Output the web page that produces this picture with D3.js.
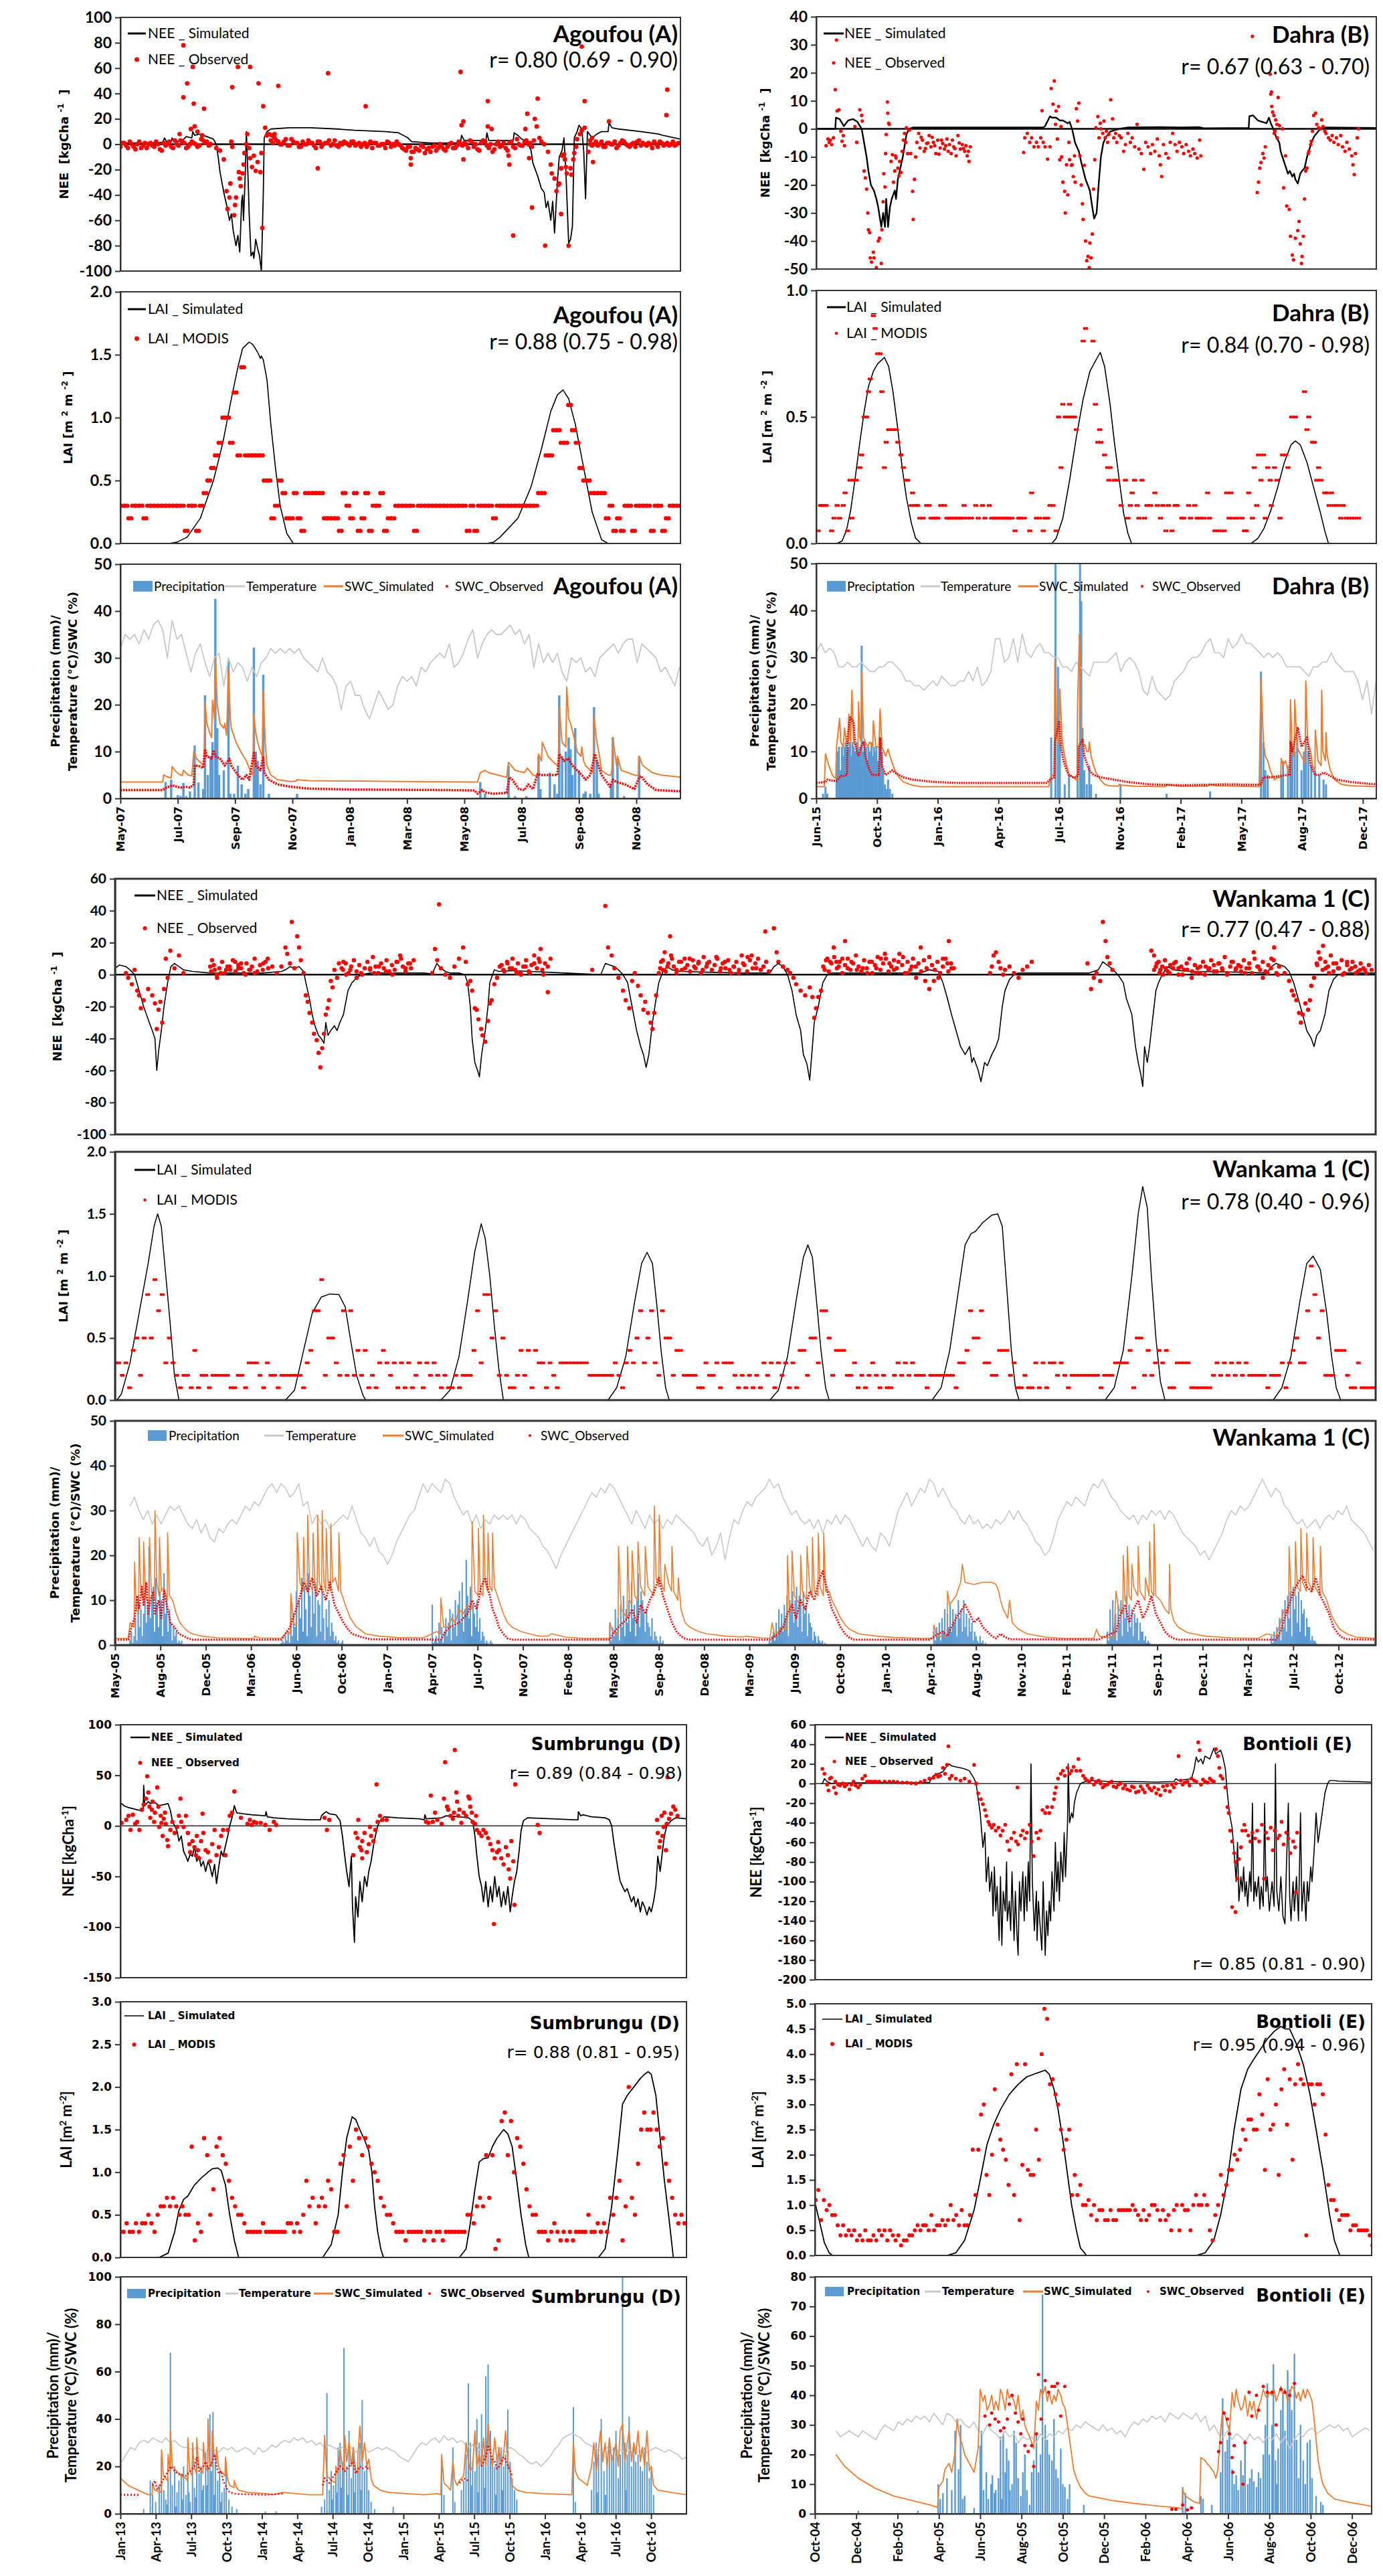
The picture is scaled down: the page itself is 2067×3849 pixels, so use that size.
<!DOCTYPE html>
<html>
<head>
<meta charset="utf-8">
<title>NEE, LAI and soil water at five West African sites</title>
<script src="https://cdn.jsdelivr.net/npm/d3@7"></script>
<style>
  body { margin: 0; background: #fff; }
  svg { display: block; }
</style>
</head>
<body>
<svg id="fig" width="2067" height="3849"></svg>
<script>
// x values are days since the first date of each site's axis

// ---------- Agoufou (A): 15 May 2007 .. 31 Dec 2008 ----------
const agoTickLabels = ["May-07","Jul-07","Sep-07","Nov-07","Jan-08","Mar-08","May-08","Jul-08","Sep-08","Nov-08"];
const agoNeeSim = [[0,1],[30,1],[45,1.5],[47,5],[49,2],[54,2],[55,5],[57,2],[66,3],[70,6],[76,5],[77,10],[79,7],[84,8],[92,6],[99,4],[102,0],[104,-10],[106,-22],[108,-30],[110,-38],[113,-48],[116,-60],[118,-55],[120,-68],[123,-80],[125,-72],[127,-85],[129,-45],[130,-40],[131,-60],[133,-20],[134,10],[136,-30],[137,-55],[139,-88],[141,-85],[142,-90],[144,-75],[146,-82],[148,-88],[150,-100],[152,-40],[153,5],[156,10],[160,12],[180,13],[202,13],[231,12],[249,11],[282,10],[296,9],[306,5],[310,2],[330,1],[362,1],[363,7],[366,3],[389,3],[390,9],[392,3],[418,3],[419,9],[423,7],[427,4],[432,3],[437,-5],[439,-15],[444,-25],[448,-35],[451,-38],[453,-50],[455,-45],[458,-60],[460,-45],[462,-70],[465,-30],[467,-10],[470,-5],[472,5],[474,-20],[477,-78],[479,-75],[481,-65],[483,5],[486,10],[488,15],[491,12],[493,-5],[495,-43],[497,10],[502,5],[507,8],[512,10],[519,10],[520,17],[523,13],[530,12],[554,10],[573,8],[577,7],[596,4]];
const agoNeeObsA = [-2,1,-3,0,-4,2,-1,-3,1,-2,0,-5,-1,2,-3,0,3,1,-2,2,0,-1,3,2,0,
  null,null,null,null,null,null,null,null,null,null,null,null,null,null,null,
  3,5,2,0,4,-1,2,1,-2,0,3,1,-3,2,0,1,-1,3,-2,0,
  1,-1,2,0,-2,1,0,-3,1,-1,0,2,-2,-1,0,
  -3,-5,-2,-6,-4,-1,-7,-3,-2,-5,0,-4,-2,1,-3,
  2,-1,0,3,-2,-4,1,2,-3,-6,0,-2,1,-5,2,-3,0,-1,3,1,
  null,null,null,null,null,null,null,null,null,null,null,null,null,null,null,
  3,0,-1,2,-2,1,0,-3,1,2,-1,0,-2,3,1,-1,0,2,-2,1,0,-1,2,0];
const agoNeeObsB = [1,-1,2,-2,0,-3,1,0,-1,2,-4,1,0,-2,3,-1,2,-3,0,1,-2,4,1,-1,
  null,null,null,null,null,null,null,null,null,null,null,null,null,null,null,null,
  1,3,0,2,-1,4,1,-2,2,0,1,-1,2,-2,1,3,0,-1,1,2,
  0,2,-1,1,0,-2,2,1,-1,0,-3,1,0,2,-1,
  -4,-2,-6,-3,-5,-2,-4,-6,-1,-3,-2,-5,0,-3,-1,
  0,1,-3,2,0,-5,3,-1,0,-4,2,-1,-3,1,-2,4,-1,2,0,-2,
  null,null,null,null,null,null,null,null,null,null,null,null,null,null,null,
  -1,2,0,-2,1,0,2,-1,3,0,-2,1,2,-1,0,1,-3,0,2,-1,1,0,-1,1];
const agoNeeObsSeason = [[67,78],[71,48],[67,37],[77,61],[78,32],[89,28],[63,8],[75,12],[79,14],[82,10],[87,7],[119,45],[125,61],[138,61],[147,48],[152,30],[168,46],[221,56],[261,30],[210,-19],[362,57],[365,18],[363,15],[391,34],[391,14],[395,12],[365,-12],[309,-11],[309,-16],[433,24],[444,36],[441,20],[443,14],[431,12],[435,-11],[413,-9],[414,-16],[418,-72],[438,-50],[452,-80],[477,-80],[469,-55],[491,77],[494,34],[520,18],[582,43],[581,23],[503,-14],
  [102,-3],[106,-5],[110,-12],[113,-37],[116,-42],[114,-51],[121,-56],[122,-48],[117,-31],[123,-42],[126,-22],[127,-27],[130,-23],[128,-33],[131,-16],[132,-7],[134,0],[135,8],[137,-3],[138,-11],[140,-18],[142,-9],[144,-21],[146,-14],[149,-22],[150,-7],[151,-66],[154,13],[156,7],[158,8],[161,7],[164,8],[118,2],[119,-2],
  [440,3],[446,5],[448,2],[451,0],[455,-6],[458,-16],[459,-23],[462,-27],[464,-37],[466,-32],[467,-31],[469,-19],[470,-9],[472,-8],[473,-12],[474,-18],[475,-23],[479,-19],[480,-24],[482,-12],[483,-7],[485,-2],[486,4],[489,8],[491,11],[494,13],[498,-6],[500,0],[502,5]];
const agoLaiSim = [[0,0],[52,0],[60,0.01],[71,0.05],[85,0.2],[99,0.5],[109,0.8],[118,1.15],[125,1.4],[130,1.55],[137,1.6],[141,1.58],[146,1.52],[149,1.47],[150,1.49],[152,1.46],[156,1.3],[160,0.95],[165,0.6],[170,0.3],[177,0.08],[184,0],[390,0],[397,0.01],[404,0.05],[423,0.2],[437,0.45],[448,0.75],[458,1.05],[465,1.18],[471,1.22],[477,1.15],[484,0.95],[493,0.6],[502,0.25],[512,0.03],[519,0],[596,0]];
const agoLaiModis = [0.3,0.3,0.2,0.3,0.3,0.3,0.2,0.3,0.3,0.3,
  0.3,0.3,0.3,0.3,0.3,0.3,0.3,0.1,0.3,0.3,
  0.1,0.3,0.4,0.5,0.6,0.7,0.8,1.0,1.0,0.8,
  1.2,0.7,1.4,0.7,0.7,0.7,0.7,0.7,0.5,0.5,
  0.2,0.3,0.5,0.4,0.2,0.2,0.4,0.2,0.1,0.4,
  0.4,0.4,0.4,0.4,0.2,0.2,0.2,0.2,0.1,0.4,
  0.3,0.2,0.4,0.1,0.2,0.4,0.1,0.3,0.3,0.4,
  0.1,0.2,0.2,0.3,0.3,0.3,0.3,0.3,0.1,0.3,
  0.3,0.3,0.3,0.3,0.3,0.3,0.3,0.3,0.3,0.3,
  0.3,0.3,0.1,0.3,0.1,0.3,0.3,0.3,0.3,0.2,
  0.3,0.3,0.3,0.3,0.3,0.3,0.3,0.3,0.3,0.3,
  0.3,0.4,0.4,0.7,0.7,0.9,0.9,0.8,0.8,1.1,
  0.9,0.8,0.6,0.5,0.5,0.4,0.4,0.4,0.4,0.2,
  0.3,0.1,0.2,0.1,0.3,0.3,0.1,0.3,0.3,0.3,
  0.3,0.1,0.3,0.3,0.1,0.2,0.3,0.3,0.3];
const agoTemp = [32,35,34,35,33,36,34,37,38,36,30,38,34,35,31,27,31,33,29,26,30,31,24,30,27,29,28,25,28,26,29,30,32,31,32,31,32,31,32,30,29,28,27,30,27,26,24,19,24,25,22,22,19,17,20,23,21,19,20,24,26,25,26,24,28,27,29,30,31,30,33,28,29,31,34,36,30,33,35,36,35,35,36,37,35,36,33,35,28,33,29,31,29,31,27,25,30,29,30,27,28,26,30,31,32,33,31,33,34,34,29,33,32,31,30,27,28,26,24,28];
const agoPrecip = [[48,3.5],[54,4],[61,0.7],[64,0.5],[67,3.3],[70,0.5],[74,1.5],[79,11.3],[83,3.4],[88,2],[90,22],[93,5],[96,9],[98,12],[101,42.6],[103,15],[105,5],[110,6],[115,29.3],[117,1],[121,1],[125,7],[129,3],[133,1],[136,2],[142,32.2],[144,10],[146,8],[149,3],[152,26.4],[158,1],[188,1],[383,3.5],[388,1],[413,7],[420,0.5],[432,0.5],[445,9],[447,2],[457,5.5],[462,3],[465,1],[467,22],[470,9],[474,10],[477,13],[479,10.5],[481,5],[484,15],[488,6],[493,1],[495,1.5],[500,1],[504,19.5],[507,8],[509,1],[522,3],[524,13],[529,8],[536,0.5],[552,9]];
const agoSwcSim = [[0,3.5],[45,3.5],[46,5],[50,4.6],[54,4.4],[55,6.8],[60,5.5],[64,5],[66,4.9],[67,6],[72,5],[76,4.8],[78,10],[81,8.5],[86,7.5],[89,7],[90,20.5],[92,16],[95,14],[97,13],[98,21],[100,17],[101,30],[103,20],[106,16],[110,15],[111,16],[113,13.5],[115,27.5],[117,17],[118,15],[123,12],[128,10],[134,8],[138,6],[141,5],[142,18],[144,14],[146,12],[149,10],[151,9],[152,23],[154,12],[156,7],[160,5],[167,4],[181,3.6],[187,3.7],[188,4],[200,3.8],[300,3.6],[380,3.5],[383,5.5],[388,6],[392,5.5],[411,4.5],[413,7.7],[420,6],[430,5.5],[433,6.5],[439,5],[444,4.8],[445,9.5],[448,8],[449,12],[455,9],[462,7.5],[466,7],[467,19.5],[470,12],[474,11],[475,23.8],[477,17],[479,16],[484,12],[486,10],[490,9],[491,11],[493,8],[495,7],[500,6],[503,5.5],[504,17.5],[507,12],[509,10],[512,6],[519,5],[522,5],[523,6],[524,13],[528,7],[529,9],[533,6],[547,5],[551,4.8],[552,9],[556,7],[566,5.5],[575,5],[597,4.5]];
const agoSwcObs = [[0,1.8],[45,1.8],[48,2.2],[55,2.8],[60,2.5],[64,2.3],[69,2.5],[74,2.3],[78,3],[79,7],[83,7],[88,6.5],[90,10.5],[92,9],[97,8.5],[99,10.3],[101,9],[106,8.5],[111,7],[116,8.5],[118,7],[125,5],[130,4],[134,5],[137,4],[142,9.7],[144,7],[149,6],[152,9],[153,5.5],[158,4],[167,3],[181,2.5],[200,2.1],[246,1.9],[340,1.8],[377,1.7],[380,1.0],[385,1.8],[388,1.3],[397,1.0],[411,1.2],[414,4.5],[417,4],[424,2],[430,1.8],[434,3],[439,2],[444,5.2],[448,5],[465,5],[467,9.5],[472,8],[477,8.5],[481,7],[486,6],[491,5],[495,4],[500,5],[505,9.5],[507,8],[512,5],[521,2.5],[524,4],[528,3.5],[537,3],[547,2],[552,4.5],[554,4.8],[561,3],[570,1.8],[597,1.5]];

// ---------- Dahra (B): 30 Jun 2015 .. 29 Dec 2017 ----------
const dahTickLabels = ["Jun-15","Oct-15","Jan-16","Apr-16","Jul-16","Nov-16","Feb-17","May-17","Aug-17","Dec-17"];
const dahNeeSim = [[0,0],[16,0],[31,0],[32,4],[38,3.5],[45,1],[52,3],[60,3.5],[67,2.5],[74,0],[82,-10],[85,-15],[89,-20],[94,-22],[98,-25],[101,-28],[106,-35],[109,-30],[112,-35],[114,-25],[117,-35],[120,-28],[123,-25],[128,-22],[130,-25],[133,-18],[136,-15],[141,-10],[144,-6],[147,-2],[151,0],[158,0.5],[370,0.5],[373,1],[381,4.5],[384,4],[391,4],[397,3],[402,3],[410,2],[413,2.5],[417,0],[422,-5],[428,-8],[432,-12],[439,-18],[446,-22],[450,-28],[453,-32],[457,-30],[461,-18],[464,-10],[468,-5],[472,-3],[479,-1],[486,-0.5],[494,0],[508,0.5],[559,0.6],[596,0.5],[625,0.6],[632,0.2],[705,0.3],[706,4.5],[712,4.8],[720,3],[727,2.5],[734,2],[738,4],[741,2],[745,0],[750,-3],[755,-5],[757,-8],[763,-12],[769,-16],[772,-15],[776,-17],[779,-16],[781,-18],[785,-19.5],[789,-16],[792,-15],[796,-14],[800,-10],[803,-8],[807,-5],[811,-3],[814,-2],[822,0],[829,0.5],[913,0.3]];
const dahNeeObs = [[16,-6],[19,-3.6],[21,-4.8],[23,-4],[25,-5.6],[28,-3.2],[31,14],[33,31.7],[34,6.4],[37,6.8],[40,-0.8],[42,-4.4],[44,-2.4],[46,-6],[63,0.8],[66,-4.8],[71,6.8],[74,4.8],[75,2.8],[78,-15],[80,-17.5],[82,-21.5],[84,-30],[85,-36],[87,-37],[88,-46],[90,-47.5],[93,-44],[94,-46],[98,-49.5],[101,-40],[103,-39],[106,-48],[107,-36],[109,-26],[110,-16],[112,-20.7],[113,-8.8],[114,-2],[116,9.6],[116.5,5.6],[118,2],[119,1.6],[122,-11.6],[124,-9.2],[126,-19],[128,-15],[129,-9.6],[130,-10.4],[133,-14],[135,-16.7],[136,-11.6],[138,-15.5],[140,-8],[142,-4],[144,-1.6],[146,-4.8],[147,0.4],[149,-8.8],[152,-0.4],[154,-8.8],[157,-22.3],[158,-32.3],[160,-18],[162,-10],[164,-4.8],[167,-1.6],[169,-6.8],[171,-3],[173,-4],[176,-8],[178,-7],[180,-5.2],[182,-5],[184,-2.4],[187,-6.4],[189,-3],[191,-4.8],[193,-6],[195,-8.8],[198,-4],[200,-9],[202,-6.8],[204,-4],[206,-5.2],[209,-7.2],[211,-6],[213,-3.6],[215,-8],[217,-5.6],[220,-8.8],[222,-4],[224,-6.4],[226,-7],[228,-9.6],[231,-2.4],[233,-5],[235,-7.2],[238,-5.6],[240,-7],[242,-8],[244,-6],[246,-9.6],[248,-8],[249,-11.6],[251,-6.4],
  [338,-8.4],[340,-3.2],[344,-1.6],[348,-4.8],[351,-3.2],[355,-6.4],[359,-4.8],[362,-6.4],[366,-3.2],[368,6.5],[370,-4.8],[373,-6.4],[377,-10.8],[381,-6.4],[383,14.4],[386,8.8],[388,17.1],[390,1.6],[391,6.4],[393,-3.6],[395,8],[397,-11],[399,0.8],[400,-10],[402,-19],[405,-22.3],[406,-30],[408,-12.8],[410,-23.5],[412,-4.8],[413,-11],[416,-13],[417,-12.8],[419,-17],[421,-9.6],[422,-19],[424,7.2],[426,2.8],[428,9.2],[430,-9.6],[432,-20],[434,-26.7],[435,-32.3],[437,-13],[439,-40],[441,-47],[443,-45.5],[445,-49.5],[446,-40.7],[448,-46],[450,-37.5],[452,-21.5],[454,-11],[456,0.4],[459,4.4],[461,-3.2],[463,2],[464,0],[467,-1.6],[469,2.8],[471,-3.2],[473,-0.8],[475,-4.8],[477,-2],[480,10.4],[483,3.6],[485,-3.2],[488,-1.6],[490,-4.8],[494,-2.4],[497,-3.2],[501,-8],[504,-5.6],[508,-1.6],[512,-4.8],[515,-3.2],[519,-6.4],[523,1.6],[526,-7.2],[530,-8.8],[534,-14.4],[537,-4.8],[541,-6.4],[545,-8.8],[548,-5.6],[552,-8],[556,-3.6],[559,-9.6],[561,-12.8],[563,-17],[566,-5.6],[570,-8.8],[574,-10.4],[577,-4.8],[581,-1.6],[585,-5.6],[588,-8],[592,-4.8],[596,-6.4],[599,-8.8],[603,-5.6],[607,-8],[610,-9.6],[614,-7.2],[617,-8.8],[621,-10.4],[625,-4],[627,-9.6],
  [711,33],[740,19.5],[742,13.2],[741,12.4],[742.5,8],[744,6],[746,4.8],[753,11.2],[749,3.2],[751,1.6],[748,-0.8],[746.5,-1.6],[751.5,-3.2],[755,1.2],[760,0],[765,-9.6],[719,-22.7],[721,-19],[723,-14],[725,-12],[728,-8.8],[732,-6.4],[730,-10.4],[762,-21],[767,-27.5],[771,-28.7],[773,-38.3],[776,-45],[778,-46.7],[781,-39],[785,-36.3],[787,-33],[789,-41],[791,-48],[792,-45.5],[794,-38.3],[796,-25],[798,-15],[800,-14],[802,-8.8],[803,-8],[806,-5.6],[807,-4.4],[809,-0.8],[811,4.8],[814,5.6],[816,1.6],[819,0.4],[822,0],[824,3.2],[826,0.8],[829,-0.8],[831,-1.6],[835,-3.2],[838,-4],[841,-2.4],[844,-4.8],[848,-3.2],[851,-5.6],[855,-2.4],[858,-6.4],[862,-8],[865,-4.8],[869,-7.2],[873,-9.6],[875,-12.8],[877,-16.3],[879,-8.8],[882,-3.2],[884,0]];
const dahLaiSim = [[0,0],[34,0],[42,0.01],[49,0.05],[56,0.13],[63,0.25],[71,0.4],[78,0.52],[85,0.62],[93,0.68],[100,0.71],[111,0.735],[118,0.7],[125,0.6],[133,0.45],[140,0.3],[147,0.18],[155,0.08],[162,0.02],[171,0],[384,0],[391,0.02],[402,0.1],[413,0.25],[424,0.42],[435,0.57],[446,0.68],[457,0.73],[463,0.755],[470,0.7],[479,0.55],[486,0.4],[494,0.25],[501,0.12],[508,0.04],[514,0],[709,0],[720,0.02],[730,0.06],[741,0.13],[752,0.22],[763,0.32],[774,0.39],[781,0.405],[789,0.39],[800,0.32],[811,0.22],[822,0.12],[829,0.05],[835,0],[913,0]];
const dahLaiModis = [[3,0.05],[7,0.15],[10,0.15],[13,0.15],[16,0.15],[25,0.05],[29,0.1],[34,0.15],[38,0.1],[44,0.15],[47,0.2],[51,0.05],[55,0.25],[58,0.1],[62,0.25],[65,0.25],[71,0.3],[74,0.35],[78,0.5],[82,0.5],[85,0.6],[88,0.65],[93,0.9],[96,0.85],[100,0.75],[104,0.75],[107,0.6],[111,0.3],[114,0.4],[118,0.45],[121,0.45],[125,0.45],[130,0.45],[133,0.4],[138,0.35],[142,0.3],[146,0.25],[149,0.25],[155,0.15],[157,0.2],[162,0.15],[165,0.15],[169,0.1],[174,0.1],[180,0.15],[184,0.15],[187,0.1],[191,0.1],[195,0.1],[198,0.1],[203,0.15],[209,0.15],[213,0.1],[217,0.1],[220,0.1],[224,0.1],[228,0.1],[231,0.1],[235,0.1],[238,0.1],[241,0.15],[246,0.1],[253,0.1],[260,0.15],[264,0.1],[271,0.15],[275,0.1],[282,0.15],[286,0.1],[290,0.1],[293,0.1],[297,0.1],[301,0.1],[304,0.1],[308,0.1],[312,0.1],[315,0.1],[319,0.1],[324,0.05],[330,0.1],[333,0.1],[339,0.1],[348,0.05],[351,0.2],[359,0.1],[364,0.1],[370,0.05],[373,0.1],[377,0.1],[381,0.15],[386,0.15],[391,0.05],[395,0.5],[399,0.3],[402,0.55],[406,0.5],[410,0.5],[413,0.55],[417,0.5],[421,0.5],[424,0.45],[435,0.8],[439,0.85],[451,0.8],[455,0.55],[459,0.4],[462,0.45],[464,0.4],[470,0.35],[475,0.3],[477,0.25],[479,0.3],[486,0.25],[490,0.25],[497,0.15],[504,0.25],[508,0.1],[512,0.15],[515,0.2],[519,0.25],[523,0.15],[526,0.1],[531,0.25],[535,0.1],[539,0.15],[545,0.15],[552,0.2],[556,0.15],[561,0.1],[565,0.15],[570,0.05],[574,0.15],[580,0.05],[585,0.15],[588,0.15],[596,0.1],[599,0.1],[607,0.15],[610,0.1],[617,0.15],[621,0.1],[625,0.1],[632,0.1],[638,0.2],[641,0.1],[650,0.05],[657,0.05],[665,0.05],[669,0.2],[673,0.1],[676,0.2],[679,0.1],[686,0.1],[694,0.1],[698,0.05],[701,0.05],[705,0.2],[711,0.1],[714,0.3],[718,0.15],[721,0.35],[725,0.25],[729,0.35],[732,0.1],[736,0.3],[740,0.25],[742,0.15],[747,0.3],[751,0.25],[756,0.1],[760,0.35],[765,0.35],[769,0.3],[775,0.5],[781,0.5],[796,0.6],[800,0.45],[803,0.5],[809,0.4],[812,0.4],[816,0.25],[819,0.3],[823,0.25],[829,0.2],[832,0.2],[836,0.15],[840,0.2],[844,0.15],[851,0.15],[855,0.1],[859,0.15],[864,0.1],[869,0.1],[873,0.1],[877,0.1],[884,0.1]];
const dahTemp = [31,33,31,32,31,28,28,29,28,28,29,28,27,27,28,28,29,29,28,27,25,25,24,24,23,24,25,24,26,25,24,24,25,25,27,25,28,24,25,27,34,34,29,30,34,29,35,31,30,32,33,31,31,30,30,28,28,27,29,28,27,26,29,29,29,29,30,31,27,29,30,29,27,23,22,26,23,22,21,22,25,26,27,29,30,30,31,33,34,31,31,30,34,32,33,35,33,33,32,31,30,31,30,31,30,28,28,28,28,27,26,28,28,29,29,31,29,28,27,27,27,25,21,25,18,25];
const dahPrecip = [[11,1],[15,2.5],[18,1],[33,8],[35,10],[37,11],[39,6],[42,11],[44,9],[46,11],[48,12],[50,10],[52,11],[55,12],[57,9],[59,12],[61,11],[63,10],[66,12],[68,11],[70,9],[72,11],[74,32.5],[77,10],[79,12],[81,11],[83,8],[85,11],[87,10],[90,12],[92,9],[94,11],[96,10],[98,11],[101,8],[103,11],[105,12],[107,10],[109,6],[112,3],[114,2],[117,4],[120,2],[124,1],[383,13],[390,50],[394,28],[397,12],[405,3],[412,5],[426,11],[430,50],[432,42],[434,15],[437,6],[441,3],[445,7],[448,3],[456,1],[496,3],[571,1],[642,1.5],[725,27],[729,12],[732,6],[736,5],[758,5],[761,8],[769,7],[773,10],[776,11],[780,10],[784,13],[791,6],[795,10],[798,12],[802,10],[807,7],[813,6],[820,5],[827,4],[831,3]];
const dahSwcSim = [[0,2.5],[13,2.5],[15,9.5],[18,8],[26,5],[29,4.5],[32,4.3],[33,11],[38,17],[40,12],[44,11],[46,15],[49,12],[52,11.5],[53,18],[56,12],[58,23],[61,12],[63,11.5],[68,11],[69,20.5],[71,13],[73,12],[74,27],[77,13],[80,12],[84,11],[87,12],[92,11],[93,16.5],[97,11],[102,11],[104,19],[107,11],[113,9],[117,10.5],[120,9],[128,6],[135,4.5],[142,3.5],[157,2.8],[171,2.5],[379,2.5],[381,4],[384,5],[388,4.8],[389,29.5],[392,15],[394,12],[396,11.5],[397,23.3],[401,12],[405,9],[408,7],[412,5],[419,4.5],[423,4],[425,3.8],[426,20],[429,35],[432,12],[435,11],[438,11.5],[441,10],[444,10],[445,12],[448,9],[452,7],[456,5.5],[463,4],[470,3],[477,2.7],[492,2.6],[494,3],[499,2.8],[521,2.6],[569,2.5],[571,3],[594,2.6],[638,2.6],[642,3],[652,2.7],[722,2.5],[725,25.5],[729,12],[732,9],[736,8],[740,6],[743,5],[747,4],[754,4.5],[757,4.3],[758,8.5],[761,7],[765,8],[769,6],[772,5.5],[773,21],[776,10],[779,9],[780,21],[784,11],[787,10],[791,9],[795,8],[797,7.5],[798,25],[801,12],[806,10],[809,7],[813,6],[813.5,14.5],[818,8],[823,7],[824,23],[826,10],[830,8],[831,14],[833,9],[838,6],[845,4],[856,3],[871,2.7],[911,2.5]];
const dahSwcObs = [[0,3.3],[15,3.5],[18,4],[26,3.8],[33,3.7],[40,4.8],[47,4.8],[50,5],[51,13],[55,17.5],[61,16],[63,12],[66,10],[69,9],[73,11],[77,12],[80,9],[84,7],[87,6],[91,5],[102,5],[104,13],[107,7],[113,5],[124,6],[128,5.5],[135,5],[142,4.5],[157,4],[193,3.5],[230,3.3],[375,3.3],[381,4],[388,4.5],[389,12],[396,16.5],[399,11],[403,8],[408,6],[412,5],[419,4.5],[423,4.5],[427,5],[428,11],[434,12.5],[437,9],[445,6],[452,5],[463,4.5],[485,4],[507,3.5],[543,3],[594,2.8],[667,3],[718,2.9],[725,3],[729,4.5],[740,4.5],[769,5],[772,5],[773,12],[776,10],[785,15],[791,11],[800,13],[806,7],[813,5],[820,5],[827,5.5],[835,5],[849,4],[871,3.5],[911,3]];

// ---------- Wankama 1 (C): 20 May 2005 .. 31 Dec 2012 ----------
const wanTickLabels = ["May-05","Aug-05","Dec-05","Mar-06","Jun-06","Oct-06","Jan-07","Apr-07","Jul-07","Nov-07","Feb-08","May-08","Sep-08","Dec-08","Mar-09","Jun-09","Oct-09","Jan-10","Apr-10","Aug-10","Nov-10","Feb-11","May-11","Sep-11","Dec-11","Mar-12","Jul-12","Oct-12"];
const wanNeeSim = [[0,4],[10,6],[24,5],[33,3],[43,0],[53,-10],[63,-20],[73,-28],[82,-35],[88,-40],[92,-60],[96,-48],[102,-35],[108,-20],[116,-5],[123,5],[131,7],[141,5],[151,3],[171,2],[210,1],[327,1],[367,2],[376,3],[386,5],[396,4],[406,5],[416,2],[421,-5],[429,-15],[435,-25],[441,-32],[449,-38],[455,-40],[461,-43],[465,-30],[470,-38],[476,-35],[484,-32],[490,-35],[496,-30],[504,-25],[514,-10],[523,-5],[533,-2],[543,0],[563,1],[680,1],[700,0.5],[710,7],[719,4],[729,2],[739,1],[759,1],[772,0],[778,-5],[784,-20],[788,-40],[794,-55],[800,-60],[804,-64],[809,-50],[817,-35],[823,-20],[827,-5],[837,3],[847,2],[876,2.5],[915,2],[994,1],[1072,0],[1082,7],[1092,6],[1102,5],[1111,3],[1121,0],[1131,-5],[1141,-20],[1151,-35],[1160,-45],[1166,-50],[1172,-58],[1178,-50],[1186,-30],[1194,-15],[1200,-5],[1209,2],[1219,5],[1229,3],[1249,2],[1307,1.5],[1386,1],[1445,1],[1454,5],[1464,7],[1474,5],[1484,0],[1494,-10],[1503,-25],[1513,-35],[1519,-50],[1527,-56],[1533,-66],[1539,-45],[1543,-30],[1552,-20],[1562,-5],[1572,0],[1582,1],[1699,1],[1778,1],[1797,3],[1817,2],[1827,-5],[1837,-15],[1846,-25],[1856,-35],[1866,-45],[1876,-50],[1886,-45],[1891,-55],[1895,-52],[1905,-60],[1911,-67],[1919,-55],[1925,-57],[1935,-50],[1944,-45],[1950,-40],[1958,-20],[1964,-10],[1974,-3],[1984,0],[1994,1],[2150,1],[2170,3],[2180,8],[2189,6],[2199,4],[2213,0],[2225,-5],[2232,-15],[2244,-25],[2252,-45],[2258,-55],[2264,-63],[2268,-70],[2272,-45],[2278,-55],[2283,-45],[2291,-25],[2297,-10],[2303,-5],[2311,0],[2323,5],[2336,3],[2366,2],[2483,1.5],[2542,1],[2552,5],[2562,7],[2572,6],[2581,5],[2591,2],[2601,-5],[2611,-15],[2621,-25],[2630,-35],[2640,-40],[2646,-45],[2652,-38],[2660,-35],[2670,-25],[2679,-10],[2689,-3],[2699,0],[2719,1],[2781,1]];
const wanNeeObs = [[24,1],[29,-2],[37,-6],[43,3],[49,-10],[53,-13],[57,-21],[63,-16],[73,-9],[82,-13],[88,-18],[92,-34],[96,-22],[100,-17],[104,-30],[108,-9],[112,10],[116,-2],[122,15],[131,4],[141,12],[151,1],
  [210,5],[214,9],[220,3],[225,-2],[233,1],[245,3],[253,5],[265,8],[272,4],[278,7],[288,0],[298,3],[308,1],[327,7],[337,10],[347,5],[357,1],[367,5],[376,17],[380,13],[386,7],[390,33],[396,4],[402,24],[406,17],[410,9],[416,1],[421,-13],[425,-17],[429,-24],[435,-30],[439,-37],[445,-41],[449,-49],[453,-58],[457,-46],[461,-37],[465,-25],[469,-21],[472,-16],[476,-4],[480,-8],[484,3],[490,-2],[494,7],[500,4],[504,8],[510,0],[519,3],[533,-2],[543,1],[563,4],[572,1],[582,5],[598,2],[612,0],[621,8],[631,10],[641,4],[651,7],
  [700,1],[706,16],[711,9],[715,44],[719,4],[729,0],[739,-2],[749,5],[759,10],[768,17],[774,8],[778,-6],[784,-4],[788,-10],[794,-21],[798,-22],[802,-28],[808,-34],[811,-38],[817,-42],[823,-29],[827,-18],[831,-16],[837,-6],[843,-2],[849,5],[857,3],[866,7],[876,4],[886,1],[896,0],[906,5],[915,1],[925,7],[935,10],[939,16],[945,0],[955,-11],
  [1053,3],[1082,43],[1088,17],[1096,12],[1102,4],[1111,-2],[1121,-10],[1127,-16],[1135,-21],[1141,-4],[1147,1],[1154,-7],[1160,-13],[1166,-22],[1170,-17],[1176,-24],[1182,-30],[1186,-34],[1190,-24],[1194,-13],[1200,1],[1205,8],[1209,3],[1213,14],[1219,5],[1225,24],[1229,10],[1239,3],[1249,8],[1258,4],[1268,10],[1278,5],[1288,8],[1297,3],[1307,7],[1327,11],[1337,4],[1346,8],[1356,3],[1366,5],[1376,1],[1386,7],[1396,11],[1405,12],[1415,4],[1425,3],[1435,27],[1454,29],[1460,14],[1464,8],[1474,5],[1484,3],[1490,1],[1497,-2],[1503,-6],[1513,-10],[1523,-13],[1533,-8],[1539,-14],[1543,-27],[1547,-21],[1552,-14],[1558,-10],[1566,3],[1572,10],[1578,8],[1586,17],[1592,8],[1597,5],[1605,10],[1611,21],[1617,4],[1625,8],[1637,3],[1650,4],[1660,1],[1670,8],[1680,4],[1690,10],[1699,13],[1709,7],[1719,3],[1729,8],[1739,11],[1748,1],[1758,5],[1768,-2],[1778,17],[1788,-4],[1797,-9],[1807,-4],[1817,-2],[1827,10],[1837,7],[1840,21],[1846,4],
  [1931,1],[1935,5],[1939,12],[1944,14],[1950,8],[1954,4],[1960,0],[1964,3],[1974,5],[1984,1],[1994,-2],[2003,3],[2013,5],[2023,8],
  [2146,7],[2154,-9],[2160,-2],[2166,1],[2174,-4],[2180,33],[2186,21],[2190,11],[2195,7],[2201,3],[2287,15],[2293,12],[2297,5],[2303,8],[2307,3],[2313,0],[2319,4],[2327,1],[2337,7],[2347,4],[2356,0],[2366,3],[2376,-2],[2386,1],[2395,5],[2405,0],[2415,4],[2425,2],[2435,7],[2444,3],[2454,0],[2464,8],[2474,4],[2484,5],[2494,1],[2503,4],[2513,14],[2523,5],[2533,-2],[2543,1],[2552,10],[2558,17],[2566,0],
  [2581,1],[2591,-4],[2597,-10],[2601,-13],[2607,-16],[2613,-24],[2617,-30],[2621,-25],[2627,-18],[2633,-22],[2637,-16],[2640,-7],[2646,-2],[2652,7],[2656,14],[2660,10],[2666,18],[2672,4],[2679,1],[2689,7],[2699,4],[2709,0],[2719,8],[2729,4],[2738,1],[2748,3],[2758,3]];
// denser dry-season observations, every 6 days from the given start day
const wanObsRunStart = [212, 503, 853, 1203, 1563, 2293, 2653];
const wanObsRuns = [
  [2,6,0,4,8,1,5,3,9,2,6,4,1,7,3,5,10,2,6,3,8,4],
  [3,7,1,5,9,2,6,0,4,8,3,11,5,1,7,4,9,2,6,3,8,12,5,2,7,4,9],
  [6,2,8,4,10,3,7,1,5,9,2,6,12,4,8,3,7,5,10],
  [4,9,2,7,12,5,1,8,3,10,6,2,9,4,7,1,11,5,8,3,6,10,2,7,4,9,1,5,8,3,12,6,2,9,4,7,10,3,5,8,2],
  [5,9,2,7,11,4,8,1,6,10,3,7,12,5,2,9,4,8,1,6,11,3,7,10,2,5,9,4,13,6,1,8,3,10,5,7,2,9,4,11,6,3,8,1,5,10,2,7,4],
  [3,7,1,5,9,2,6,4,8,0,5,3,7,10,2,6,4,1,8,5,3,9,6,2,7,4,11,1,5,8,3,6,2,9,4,7,1,10,5,3,8,2,6,4,9,1,5],
  [6,10,3,8,5,12,2,7,4,9,1,6,3,8,5,2,7,4,1,6,3]];
const wanLaiSim = [[0,0],[4,0],[14,0.05],[33,0.3],[53,0.7],[73,1.1],[86,1.4],[94,1.5],[102,1.4],[112,1.0],[122,0.6],[131,0.2],[141,0],[376,0],[396,0.08],[416,0.4],[435,0.7],[455,0.83],[474,0.855],[494,0.85],[508,0.75],[519,0.5],[533,0.2],[547,0.04],[553,0],[719,0],[739,0.08],[759,0.35],[778,0.8],[794,1.2],[808,1.42],[817,1.3],[827,1.0],[837,0.6],[847,0.25],[857,0],[1088,0],[1107,0.1],[1127,0.35],[1147,0.8],[1162,1.1],[1174,1.19],[1186,1.1],[1196,0.75],[1205,0.4],[1215,0.1],[1223,0],[1445,0],[1464,0.08],[1484,0.35],[1503,0.8],[1519,1.15],[1529,1.25],[1539,1.15],[1548,0.8],[1558,0.4],[1568,0.1],[1576,0],[1803,0],[1823,0.1],[1842,0.4],[1862,0.9],[1876,1.25],[1889,1.34],[1899,1.36],[1915,1.43],[1935,1.49],[1948,1.5],[1958,1.4],[1968,0.9],[1978,0.4],[1987,0.1],[1995,0],[2185,0],[2205,0.1],[2225,0.4],[2244,1.0],[2258,1.5],[2268,1.72],[2278,1.55],[2287,1.0],[2297,0.5],[2307,0.15],[2317,0],[2556,0],[2575,0.1],[2595,0.35],[2615,0.8],[2630,1.1],[2644,1.16],[2660,1.05],[2674,0.7],[2685,0.35],[2695,0.1],[2705,0],[2781,0]];
const wanLaiModis = [0.3,0.3,0.2,0.3,0.1,0.4,0.5,0.2,0.5,0.85,
  0.5,0.97,0.72,0.85,0.3,0.5,0.3,0.2,0.1,0.2,
  0.2,0.1,0.4,0.1,0.2,0.2,0.1,0.2,0.2,0.2,
  0.2,0.2,0.1,0.1,0.2,0.2,0.1,0.3,0.3,0.3,
  0.2,0.1,0.3,0.2,0.2,0.1,0.2,0.2,0.2,0.2,
  0.2,0.2,0.1,0.3,0.4,0.72,0.72,0.97,0.2,0.5,
  0.5,0.3,0.2,0.72,0.2,0.72,0.2,0.4,0.2,0.4,
  0.1,0.2,0.1,0.3,0.4,0.3,0.2,0.3,0.1,0.3,
  0.1,0.3,0.1,0.2,0.3,0.1,0.3,0.2,0.3,0.2,
  0.1,0.2,0.1,0.1,0.2,0.1,0.2,0.2,0.2,0.4,
  0.72,0.3,0.85,0.85,0.5,0.72,0.2,0.5,0.2,0.1,
  0.1,0.2,0.4,0.2,0.4,0.1,0.4,0.3,0.3,0.1,
  0.3,0.2,0.1,0.3,0.3,0.3,0.3,0.3,0.3,0.3,
  0.3,0.2,0.2,0.2,0.2,0.2,0.2,0.2,0.3,0.2,
  0.1,0.3,0.4,0.3,0.5,0.72,0.3,0.5,0.72,0.3,
  0.2,0.72,0.5,0.5,0.2,0.4,0.4,0.2,0.2,0.2,
  0.2,0.1,0.1,0.3,0.2,0.2,0.3,0.1,0.3,0.3,
  0.3,0.2,0.1,0.2,0.1,0.2,0.1,0.2,0.1,0.3,
  0.2,0.3,0.1,0.3,0.2,0.3,0.1,0.3,0.1,0.4,
  0.4,0.2,0.5,0.5,0.3,0.72,0.72,0.5,0.2,0.4,
  0.4,0.4,0.2,0.2,0.3,0.1,0.2,0.1,0.2,0.3,
  0.2,0.1,0.2,0.1,0.1,0.2,0.3,0.2,0.3,0.2,
  0.3,0.2,0.2,0.2,0.1,0.2,0.2,0.2,0.2,0.2,
  0.2,0.2,0.1,0.3,0.3,0.4,0.72,0.5,0.5,0.72,
  0.3,0.3,0.2,0.2,0.4,0.4,0.4,0.2,0.3,0.1,
  0.1,0.2,0.1,0.1,0.3,0.1,0.3,0.1,0.3,0.3,
  0.2,0.3,0.2,0.1,0.2,0.2,0.2,0.2,0.2,0.2,
  0.2,0.2,0.1,0.2,0.2,0.2,0.3,0.3,0.3,0.3,
  0.4,0.1,0.5,0.5,0.2,0.4,0.2,0.3,0.4,0.3,
  0.4,0.1,0.1,0.3,0.3,0.3,0.3,0.1,0.1,0.1,
  0.1,0.1,0.1,0.2,0.3,0.2,0.3,0.2,0.3,0.2,
  0.3,0.2,0.3,0.2,0.2,0.2,0.2,0.2,0.1,0.2,
  0.2,0.2,0.3,0.1,0.3,0.4,0.5,0.3,0.3,0.72,
  1.08,0.85,0.5,0.72,0.2,0.2,0.2,0.4,0.4,0.4,
  0.2,0.1,0.1,0.3,0.1,0.1,0.1,0.1];
const wanTemp = [31,33,30,28,30,27,29,27,29,31,30,31,29,27,26,28,25,27,24,23,26,25,27,28,27,29,31,30,32,31,33,35,36,34,36,35,33,34,36,31,32,27,29,27,28,26,27,28,29,28,31,28,25,24,22,24,21,20,18,20,23,25,27,29,30,33,36,34,36,35,34,37,36,33,31,29,30,27,29,26,28,27,29,28,29,28,29,27,29,28,26,25,24,22,21,19,17,20,22,24,26,28,30,32,34,33,35,34,36,35,33,31,29,27,30,28,26,29,27,28,26,28,27,29,28,27,26,25,23,22,24,20,22,25,19,24,28,27,30,32,31,33,34,35,37,35,36,33,31,29,30,28,27,28,26,28,25,28,27,29,27,29,28,26,24,22,24,22,21,25,24,22,26,30,32,34,31,33,35,34,37,36,33,35,33,31,30,28,27,29,27,28,26,27,26,28,27,28,30,28,30,28,27,25,23,22,20,21,24,28,30,32,31,33,32,31,34,36,35,37,35,33,32,30,29,28,29,27,29,28,30,29,30,28,30,29,27,25,24,23,22,20,21,19,21,23,25,28,30,29,31,30,31,33,35,37,35,33,35,34,31,30,28,27,28,26,27,28,26,28,29,28,30,29,31,28,27,26,25,23,21];
const wanRainStart = [33,367,700,1092,1444,1807,2190,2552];
const wanRain05 = [1,3,0.5,2,6,1,10,4,8,2,7,12,5,9,22,6,11,13,3,15,9,4,12,10,2,16,7,11,3,8,5,1,4,2,3,0.5,1,0.5,1,0];
const wanRain06 = [0.5,1,0.5,2,1,3,0.5,9,2,7,4,12,1,10,6,15,3,13,8,2,16,11,4,12,7,14,2,10,9,3,12,6,1,8,4,10,2,5,3,1,2,0.5,1,0,0.5,1];
const wanRain07 = [9,0.5,1,2,0.5,5,1,4,0.5,3,6,2,5,8,1,7,4,10,2,9,12,5,14,3,8,19,11,6,13,2,9,7,4,10,3,6,1,3,2,0.5,1,0.5,0,1,0.5];
const wanRain08 = [5,1,4,2,8,3,6,1,9,4,11,2,8,5,10,3,14,6,9,2,10,16,4,12,10,7,3,8,5,4,2,6,1,3,2,1,0.5,2,0.5,1];
const wanRain09 = [1,0.5,2,3,1,5,2,8,4,7,3,9,6,11,2,10,8,12,5,10,13,4,11,9,3,12,7,9,2,7,5,4,1,3,2,0.5,2,1,0.5,1,0,0.5];
const wanRain10 = [3,1,4,2,5,1,6,3,8,2,7,4,9,3,8,5,7,2,10,6,8,3,10,4,7,2,6,3,5,1,3,2,1,0.5,2,0.5,1,0,0.5];
const wanRain11 = [3,1,8,2,10,4,7,1,9,5,10,2,8,6,11,3,9,4,8,2,7,5,6,1,5,3,3,1,2,0.5,1,0.5];
const wanRain12 = [2,0.5,3,1,4,2,6,1,8,4,10,3,11,6,12,2,13,8,11,5,12,3,10,7,8,2,6,4,4,1,2,1,1,0.5];
const wanSwcSim = [[0,1.5],[29,1.5],[33,5],[42,4],[43,18.5],[47,8],[52,7],[53,24],[57,12],[62,10],[63,23],[67,11],[75,9],[76,24],[80,12],[87,10],[88,30],[92,14],[97,11],[98,24],[102,12],[108,13],[115,10],[116,25],[120,11],[127,10],[135,7],[143,5],[151,4],[161,3],[171,2.5],[190,2],[210,1.8],[229,1.6],[288,1.5],[306,1.5],[308,2],[318,1.6],[367,1.5],[380,3],[387,2.5],[388,11.5],[394,5],[401,4],[402,25],[408,14],[415,12],[416,24],[419,14],[424,12],[425,29],[429,14],[436,12],[437,25],[441,14],[446,12],[447,29],[451,14],[456,12],[457,30],[461,14],[465,12],[466,26],[470,14],[475,12],[476,27],[480,14],[486,15],[493,12],[494,25],[498,12],[508,9],[519,6],[533,4],[553,2.5],[582,2],[621,1.7],[680,1.6],[710,3],[718,2.5],[719,10.5],[725,4],[735,4],[743,6],[751,5],[759,8],[768,7],[778,9],[787,8],[788,27.5],[794,12],[801,11],[802,26],[806,12],[812,11],[813,29],[817,14],[822,12],[823,25],[827,13],[832,12],[833,25],[837,13],[847,10],[857,7],[866,5],[876,4],[896,3],[915,2.5],[935,2],[955,2],[964,2.5],[994,1.8],[1033,1.5],[1091,1.5],[1092,5],[1098,3],[1110,2.5],[1111,22],[1117,8],[1130,6],[1131,22],[1135,10],[1140,9],[1141,21],[1147,11],[1153,10],[1154,23],[1160,13],[1169,11],[1170,22],[1176,13],[1189,11],[1190,31],[1194,15],[1200,13],[1201,29],[1205,14],[1212,12],[1213,18],[1221,14],[1228,12],[1229,22],[1233,12],[1242,10],[1243,15],[1249,8],[1258,5],[1268,4],[1288,3],[1307,2.5],[1347,2],[1386,1.8],[1390,2],[1425,1.6],[1445,1.5],[1450,5],[1456,2],[1470,4],[1483,3.5],[1484,20],[1488,8],[1493,7],[1494,21],[1499,11],[1512,9],[1513,20],[1517,12],[1526,10],[1527,22],[1533,13],[1538,11],[1539,24],[1543,12],[1551,11],[1552,25],[1556,13],[1563,11],[1564,25],[1568,12],[1576,12],[1582,10],[1592,8],[1601,6],[1611,4.5],[1621,3.5],[1641,2.5],[1680,2],[1719,1.7],[1778,1.5],[1806,1.5],[1807,4.5],[1813,2],[1836,1.8],[1837,12],[1842,9],[1856,11],[1866,14],[1870,18],[1876,14],[1895,13.5],[1915,14],[1935,14],[1944,13.5],[1950,12],[1954,10],[1960,8],[1970,6],[1974,10],[1980,5],[1994,3.5],[2013,2.5],[2052,1.8],[2091,1.5],[2160,1.5],[2166,3.5],[2172,2],[2204,1.5],[2205,3],[2209,12],[2215,8],[2224,7],[2225,20],[2229,10],[2233,9],[2234,22],[2238,11],[2243,10],[2244,18],[2248,13],[2257,11],[2258,22],[2262,12],[2273,10],[2274,15],[2282,11],[2283,23],[2287,12],[2292,11],[2293,27],[2297,11],[2307,10],[2317,8],[2326,7],[2327,18],[2330,8],[2336,5.5],[2346,4],[2366,2.8],[2405,2],[2464,1.6],[2523,1.5],[2532,2],[2542,2.5],[2562,2],[2572,5],[2581,8],[2590,7],[2591,22],[2595,12],[2604,11],[2605,23],[2609,13],[2616,12],[2617,26],[2621,14],[2629,12],[2630,25],[2634,14],[2643,12],[2644,24],[2648,13],[2659,11],[2660,22],[2664,12],[2674,10],[2683,7],[2693,5],[2703,3.5],[2719,2.5],[2738,1.8],[2781,1.5]];
const wanSwcObs = [[0,1.2],[30,1.2],[33,3],[43,6],[49,11],[53,8],[59,13],[63,9],[69,14],[73,7],[78,10],[84,12],[88,7],[96,10],[102,6],[108,12],[116,8],[122,5],[131,4],[141,2.5],[151,2],[161,1.5],[171,1.2],[367,1.2],[386,4],[396,7],[406,10],[416,14],[425,12],[435,15],[445,11],[455,13],[465,10],[474,14],[484,9],[494,7],[504,5],[514,3.5],[523,2.5],[543,1.8],[563,1.3],[719,1.2],[729,3],[739,4],[759,5],[778,7],[788,10],[798,8],[808,13],[817,15],[827,11],[833,8],[841,6],[847,4],[857,2.5],[866,1.5],[876,1.2],[1092,1.2],[1102,3],[1111,4],[1131,6],[1141,8],[1151,5],[1160,9],[1170,7],[1180,10],[1190,12],[1200,15],[1209,11],[1219,8],[1229,5],[1239,3],[1249,2],[1258,1.4],[1268,1.2],[1445,1.2],[1464,2.5],[1474,4],[1484,7],[1494,9],[1503,6],[1513,10],[1523,8],[1533,12],[1543,10],[1552,14],[1562,16.5],[1572,12],[1582,8],[1592,6],[1601,4],[1611,2.5],[1621,1.6],[1631,1.2],[1797,1.2],[1817,2.5],[1827,3],[1837,2],[1846,4],[1856,6],[1866,7.5],[1876,9],[1886,7],[1895,5],[1905,6],[1915,4],[1925,3],[1935,2],[1944,1.5],[1954,2.5],[1964,1.8],[1974,1.3],[2170,1.2],[2209,3],[2219,7],[2229,9],[2238,5],[2248,8],[2258,10],[2268,6],[2278,8],[2287,11],[2297,7],[2307,5],[2317,3],[2327,2],[2336,1.5],[2346,1.2],[2562,1.2],[2572,3],[2581,6],[2591,9],[2601,12],[2611,14],[2621,15.5],[2630,13],[2640,12],[2650,15],[2660,11],[2670,9],[2679,7],[2689,4],[2699,2.5],[2709,1.6],[2719,1.3],[2781,1.2]];

// ---------- Sumbrungu (D): 1 Jan 2013 .. 31 Dec 2016 ----------
const sumTickLabels = ["Jan-13","Apr-13","Jul-13","Oct-13","Jan-14","Apr-14","Jul-14","Oct-14","Jan-15","Apr-15","Jul-15","Oct-15","Jan-16","Apr-16","Jul-16","Oct-16"];
const sumNeeSim = [[0,22],[3,22],[9,20],[21,18],[32,17],[43,16],[55,15],[59,15],[60,40],[63,20],[72,24],[77,22],[89,23],[100,20],[112,21],[123,22],[129,15],[134,5],[140,0],[146,-5],[151,-15],[157,-10],[163,-25],[169,-30],[174,-35],[180,-28],[186,-30],[191,-20],[197,-35],[203,-30],[208,-40],[214,-35],[220,-45],[226,-35],[231,-40],[237,-50],[243,-38],[248,-57],[254,-40],[260,-25],[265,-30],[271,-20],[277,-10],[282,0],[288,8],[294,20],[300,13],[317,12],[339,11],[374,10],[376,14],[379,9],[396,8],[431,7],[487,6],[516,6],[519,10],[524,12],[531,14],[539,12],[556,11],[567,5],[573,-10],[579,-30],[584,-45],[590,-60],[596,-30],[599,-80],[604,-115],[607,-70],[613,-90],[618,-55],[624,-75],[630,-50],[636,-60],[641,-45],[647,-35],[653,-20],[658,-10],[664,0],[670,5],[681,9],[715,8],[772,7],[784,6],[786,11],[789,7],[829,8],[841,10],[875,9],[898,8],[909,5],[915,-10],[920,-30],[926,-50],[932,-60],[937,-75],[943,-55],[949,-80],[955,-60],[960,-75],[966,-50],[972,-70],[977,-60],[983,-80],[989,-65],[994,-78],[1000,-60],[1006,-85],[1011,-70],[1017,-55],[1023,-45],[1029,-25],[1034,-5],[1040,5],[1051,8],[1114,7],[1171,6],[1181,6],[1182,14],[1188,10],[1194,11],[1216,9],[1251,8],[1262,6],[1268,0],[1273,-15],[1279,-30],[1285,-45],[1290,-55],[1296,-60],[1302,-65],[1308,-62],[1313,-68],[1319,-75],[1325,-70],[1330,-80],[1336,-72],[1342,-85],[1347,-75],[1353,-80],[1359,-88],[1365,-80],[1370,-85],[1376,-75],[1382,-60],[1387,-30],[1393,-45],[1399,-25],[1404,-10],[1410,0],[1421,5],[1433,8],[1461,7]];
const sumNeeObs = [[3,3],[15,6],[21,10],[26,-4],[32,11],[38,2],[43,4],[49,-4],[55,16],[60,21],[66,27],[69,49],[72,33],[75,19],[77,8],[81,16],[83,24],[87,4],[89,13],[95,38],[98,19],[100,-1],[104,10],[106,3],[109,-10],[112,7],[115,13],[117,2],[121,-14],[123,-20],[129,-4],[134,4],[140,-7],[146,-1],[151,10],[155,27],[157,4],[163,-1],[169,10],[174,-7],[178,-18],[180,-26],[186,-15],[191,-21],[195,-29],[197,-10],[200,-24],[203,-32],[208,-15],[212,12],[214,-7],[220,-24],[226,-26],[231,-35],[237,-18],[243,-4],[248,-29],[254,-21],[260,-10],[265,-4],[271,-29],[277,-4],[282,10],[288,13],[294,34],[311,8],[328,2],[334,6],[339,1],[345,4],[351,3],[362,3],[374,1],[385,-4],[396,4],[402,1],
  [527,8],[533,-4],[539,6],[612,-12],[618,-21],[624,-15],[630,-7],[636,-26],[641,-18],[647,-10],[653,-15],[658,-4],[664,4],[670,10],[661,41],[676,6],[687,6],[614,6],[607,-7],[601,-29],[624,-32],[622,-24],[644,-1],
  [789,4],[795,3],[801,30],[806,4],[812,13],[818,6],[829,2],[835,27],[838,63],[843,19],[846,16],[852,10],[858,7],[861,13],[863,75],[867,33],[869,24],[872,10],[875,16],[880,3],[886,13],[892,10],[898,29],[901,27],[903,19],[907,13],[909,4],[915,2],[918,10],[920,-4],[926,-7],[932,-10],[937,-4],[943,-7],[949,-12],[955,-18],[960,-24],[964,-97],[966,-32],[972,-26],[975,-16],[977,-24],[983,-32],[989,-38],[995,-21],[1000,-29],[1002,-43],[1006,-52],[1009,-15],[1014,-35],[1017,-78],[1019,41],[1082,-7],[1077,1],
  [1385,6],[1387,-7],[1391,-21],[1393,-15],[1397,10],[1399,-10],[1402,-1],[1404,13],[1408,-24],[1410,2],[1416,7],[1421,12],[1427,19],[1432,16],[1438,10],[1412,48]];
const sumLaiSim = [[0,0],[100,0],[123,0.05],[140,0.3],[151,0.55],[163,0.68],[174,0.72],[191,0.85],[208,0.93],[226,1.0],[237,1.04],[251,1.05],[260,1.02],[271,0.85],[282,0.5],[294,0.2],[305,0],[522,0],[544,0.15],[562,0.5],[573,1.0],[584,1.4],[598,1.65],[607,1.62],[618,1.5],[630,1.38],[641,1.25],[649,1.0],[656,0.6],[664,0.3],[672,0.1],[679,0],[875,0],[892,0.1],[903,0.4],[915,0.8],[926,1.12],[937,1.16],[949,1.17],[960,1.3],[972,1.4],[989,1.5],[1000,1.45],[1011,1.3],[1023,0.9],[1034,0.5],[1046,0.15],[1054,0],[1234,0],[1251,0.1],[1268,0.6],[1285,1.3],[1296,1.8],[1308,1.9],[1325,2.0],[1342,2.1],[1353,2.15],[1362,2.18],[1370,2.15],[1382,1.9],[1393,1.4],[1404,0.9],[1416,0.45],[1427,0],[1461,0]];
const sumLaiModis = [0.3,0.3,0.4,0.3,0.3,0.4,0.3,0.4,0.4,0.5,
  0.4,0.3,0.5,0.6,0.6,0.7,0.6,0.7,0.6,0.5,
  0.6,0.5,0.5,1.3,0.2,0.4,0.3,1.4,1.2,0.5,
  0.8,1.3,1.4,1.2,1.1,0.9,0.7,0.6,0.5,0.5,
  0.4,0.3,0.3,0.3,0.3,0.3,0.4,0.3,0.3,0.3,
  0.3,0.3,0.3,0.3,0.4,0.4,0.3,0.4,0.3,0.5,
  0.9,0.6,0.7,0.4,0.6,0.7,0.6,0.9,0.8,0.3,
  0.3,1.1,1.2,0.6,1.3,0.9,1.5,1.4,1.2,1.4,
  1.3,1.1,1.0,0.9,0.7,0.6,0.5,0.5,0.4,0.3,
  0.3,0.3,0.2,0.3,0.3,0.3,0.3,0.3,0.2,0.3,
  0.3,0.2,0.3,0.3,0.2,0.3,0.3,0.3,0.3,0.3,
  0.3,0.3,0.5,0.5,0.4,0.6,0.7,0.6,1.2,0.7,
  1.2,0.1,0.2,1.6,1.7,1.2,1.6,1.0,1.4,1.3,
  1.1,0.8,0.6,0.5,0.5,0.3,0.3,0.3,0.2,0.3,
  0.4,0.3,0.2,0.3,0.2,0.3,0.2,0.3,0.3,0.3,
  0.3,0.5,0.3,0.3,0.4,0.3,0.4,0.3,0.7,0.5,
  0.7,0.9,0.2,0.6,2.0,0.7,0.5,1.1,1.5,1.7,
  1.5,1.5,1.7,1.5,1.3,1.4,1.1,0.9,0.7,0.5,
  0.4,0.5,0.4,0.4];
const sumTemp = [22,25,28,27,30,31,30,32,31,30,32,30,31,29,28,28,27,28,27,26,28,27,26,28,27,28,26,27,28,27,25,28,26,27,29,28,30,31,30,32,31,32,30,31,29,30,28,29,28,27,28,27,28,26,27,28,26,27,28,27,28,27,26,24,23,22,25,28,30,29,31,32,30,33,31,32,30,31,29,28,30,27,28,26,27,28,27,26,28,27,25,24,22,21,22,20,22,24,27,29,32,33,34,33,32,30,29,28,27,26,28,27,26,27,26,27,25,26,27,26,27,28,27,26,27,26,25,23,24];
const sumPrecip = [[60,2],[77,14],[83,8],[91,5],[100,12],[106,24],[112,10],[117,6],[120,4],[123,15],[129,68],[134,12],[140,20],[143,3],[146,9],[151,14],[157,17],[160,6],[163,20],[169,8],[174,18],[177,9],[180,5],[186,22],[191,11],[194,7],[197,24],[203,17],[208,20],[211,10],[214,12],[220,26],[223,12],[226,20],[231,42],[235,18],[239,43],[242,8],[245,22],[251,14],[256,18],[259,5],[262,9],[268,11],[273,22],[280,6],[288,3],[300,2],[374,1],[402,1],
  [519,3],[527,6],[533,51],[539,10],[544,18],[547,6],[550,12],[556,20],[559,9],[562,28],[567,30],[570,11],[573,22],[577,70],[584,20],[587,8],[590,35],[596,15],[601,25],[604,9],[607,18],[613,20],[618,30],[621,10],[624,48],[630,18],[636,22],[641,10],[647,5],[656,2],[704,3],
  [829,20],[835,8],[858,28],[863,5],[880,10],[886,14],[892,25],[898,55],[903,30],[906,12],[909,22],[915,18],[920,40],[923,9],[926,30],[932,42],[937,25],[940,11],[943,58],[949,63],[955,35],[960,22],[966,20],[969,8],[972,24],[977,26],[983,28],[986,10],[989,20],[994,25],[1000,44],[1006,22],[1011,15],[1017,10],[1023,6],
  [1169,45],[1174,5],[1216,10],[1222,22],[1228,30],[1231,9],[1234,25],[1241,40],[1248,18],[1252,8],[1256,22],[1262,30],[1268,25],[1273,28],[1279,35],[1285,15],[1290,25],[1296,100],[1302,30],[1305,10],[1308,25],[1313,41],[1319,20],[1325,28],[1330,22],[1336,25],[1342,20],[1347,18],[1353,28],[1359,22],[1365,15],[1370,18],[1376,8]];
const sumSwcSim = [[0,15],[20,12],[45,10],[72,8],[82,8],[83,13],[88,10],[105,9],[106,27],[111,16],[122,14],[123,25],[128,18],[129,35],[134,20],[145,18],[156,16],[168,15],[173,14],[174,32],[179,18],[185,16],[186,30],[190,20],[196,17],[197,32],[202,20],[213,17],[214,30],[219,20],[225,18],[226,40],[230,22],[236,20],[237,35],[242,24],[243,25],[247,22],[248,28],[253,20],[259,18],[270,16],[271,24],[276,15],[282,12],[293,11],[294,14],[300,11],[305,10],[328,9],[374,8.5],[396,8],[419,9],[487,8],[522,8],[527,33],[533,16],[539,15],[544,14],[555,13],[556,20],[561,17],[567,27],[573,20],[578,18],[579,33],[584,22],[590,30],[596,20],[601,28],[607,18],[612,17],[613,25],[618,37],[624,22],[630,30],[636,20],[641,23],[647,15],[653,12],[670,10],[692,9],[738,8.5],[784,8],[818,8.5],[827,8],[829,25],[835,13],[841,12],[852,10],[858,22],[863,14],[869,12],[875,14],[886,16],[892,30],[898,22],[903,18],[909,20],[915,35],[920,20],[926,25],[932,20],[937,32],[943,20],[949,38],[955,25],[960,20],[966,32],[972,22],[977,28],[983,20],[989,25],[994,35],[1000,22],[1006,18],[1011,12],[1023,10],[1046,9],[1091,8.5],[1165,8],[1169,30],[1174,18],[1182,15],[1205,12],[1216,20],[1222,30],[1228,18],[1239,35],[1245,22],[1251,30],[1256,20],[1262,32],[1268,22],[1273,25],[1279,30],[1285,20],[1290,35],[1296,38],[1302,22],[1308,30],[1313,35],[1319,22],[1325,30],[1330,25],[1336,35],[1342,22],[1347,28],[1353,20],[1359,35],[1365,18],[1370,20],[1376,12],[1387,10],[1421,9],[1461,8]];
const sumSwcObs = [[0,8],[49,8],[50,null],[83,12],[89,14],[95,10],[123,18],[129,20],[146,17],[169,16],[180,18],[191,20],[197,24],[203,18],[214,20],[220,22],[226,19],[231,20],[237,22],[243,25],[248,20],[254,17],[260,18],[265,14],[271,12],[277,10],[282,9],[294,8.5],[305,8.3],[374,8],[419,8.5],[420,null],[522,12],[527,15],[539,13],[567,20],[579,18],[590,20],[601,22],[607,17],[618,20],[624,19],[636,20],[641,18],[642,null],[875,13],[886,15],[898,14],[899,null],[932,20],[943,24],[949,29],[955,26],[960,23],[966,22],[972,19],[977,20],[983,22],[989,24],[994,23],[1000,20],[1006,18],[1011,16]];

// ---------- Bontioli (E): 5 Oct 2004 .. 5 Jan 2007 ----------
const bonTickLabels = ["Oct-04","Dec-04","Feb-05","Apr-05","Jun-05","Aug-05","Oct-05","Dec-05","Feb-06","Apr-06","Jun-06","Aug-06","Oct-06","Dec-06"];
const bonNeeSim = [[9,0],[11,0],[14,5],[18,2],[24,0],[31,0.5],[100,1],[169,1],[172,5],[175,8],[182,10],[189,12],[195,18],[198,20],[202,18],[208,17],[215,16],[221,15],[228,13],[235,5],[238,0],[241,-15],[244,-30],[248,-65],[251,-50],[253,-100],[256,-75],[258,-110],[261,-90],[263,-135],[265,-85],[267,-130],[269,-105],[272,-160],[274,-95],[276,-165],[278,-110],[281,-130],[283,-80],[284,-140],[287,-120],[289,-150],[291,-90],[294,-160],[296,-110],[298,-150],[300,-175],[302,-100],[304,-130],[307,-90],[309,-140],[311,-95],[313,-130],[315,-80],[317,-120],[319,20],[321,-100],[324,-150],[327,-110],[328,-160],[330,-120],[333,-150],[335,-170],[337,-100],[340,-175],[342,-130],[344,-155],[346,-120],[348,-140],[350,-90],[353,-130],[355,-60],[357,-110],[359,-80],[361,-120],[363,-70],[366,-100],[368,-50],[370,-95],[373,-40],[374,20],[376,-40],[379,-30],[381,-35],[383,-20],[386,-10],[389,-5],[392,0],[399,2],[405,3],[438,2],[471,2],[504,1.5],[530,2],[533,5],[537,3],[556,5],[560,15],[563,27],[566,22],[570,25],[573,20],[576,28],[583,25],[589,36],[592,30],[595,32],[599,34],[602,28],[606,15],[609,-10],[612,-30],[616,-45],[619,-70],[622,-100],[624,-60],[626,-120],[629,-95],[631,-110],[633,-85],[635,-115],[637,-100],[639,-125],[642,-90],[644,-110],[646,-20],[648,-120],[650,-100],[652,-115],[655,-95],[657,-128],[659,-105],[662,-125],[664,-20],[666,-110],[668,-95],[671,-130],[675,-100],[678,-125],[680,20],[682,-110],[685,-130],[688,-95],[691,-135],[694,-143],[696,-90],[699,-20],[701,-115],[703,-140],[706,-100],[708,-130],[711,-95],[714,-140],[717,-30],[719,-130],[722,-100],[725,-140],[727,-100],[729,-120],[732,-85],[734,-100],[737,-70],[740,-30],[743,-60],[747,-40],[750,-25],[753,-10],[757,0],[760,3],[767,3],[773,2.5],[822,1.5]];
const bonNeeObs = [[11,15],[14,10],[18,-1],[20,-7],[22,5],[24,6],[28,-4],[30,2],[31,-10],[34,-1],[37,-2],[41,0],[44,-3],[47,-1],[51,-6],[54,-1],[57,2],[60,-2],[64,-4],[67,-1],[70,5],[74,8],[77,2],[80,2],[83,2],[87,2],[90,2],[95,2],[103,2],[110,2],[116,2],[122,1.5],[129,1],[136,1],[142,0.5],[149,0],[156,1.5],[162,3],[169,5],[175,6],[179,9],[182,7],[185,8],[189,16],[192,10],[195,19],[197,38],[199,5],[202,8],[208,5],[215,3],[221,5],[228,2],[235,19],[238,0],[241,-10],[245,-16],[248,-21],[251,-27],[253,-33],[256,-39],[258,-42],[261,-45],[264,-42],[267,-48],[271,-45],[274,-53],[277,-48],[281,-42],[284,-59],[287,-68],[290,-56],[294,-50],[297,-59],[299,-4],[300,-62],[304,-53],[307,-48],[310,-56],[313,-50],[317,-42],[320,-59],[323,-74],[327,-50],[330,-56],[333,-48],[336,-27],[340,-30],[343,-24],[346,-30],[350,-24],[353,-16],[354,-10],[356,-4],[359,5],[363,10],[366,13],[369,8],[373,16],[376,10],[379,13],[382,17],[386,13],[389,25],[392,13],[396,8],[399,5],[402,3],[405,2],[409,5],[412,-1],[415,2],[419,3],[422,0],[425,-4],[428,-2],[432,-1],[435,1],[438,2],[441,-3],[445,-4],[448,-1],[451,0],[455,-5],[458,-2],[461,-6],[465,-7],[468,-3],[471,-4],[474,-9],[478,-8],[481,-3],[484,-6],[487,-9],[491,-2],[494,-5],[497,-7],[501,-4],[504,-10],[507,-6],[510,-12],[514,-3],[517,-7],[520,-2],[524,-8],[527,-1],[530,-4],[533,0],[537,28],[540,3],[543,-1],[546,1],[550,2],[553,-2],[556,5],[560,3],[563,2],[566,42],[568,34],[570,-1],[573,4],[576,2],[580,1],[583,5],[586,3],[589,2],[592,35],[595,28],[597,16],[599,8],[602,5],[606,-4],[609,-24],[611,-30],[613,-48],[616,-59],[619,-71],[621,-80],[624,-97],[616,-126],[621,-131],[626,-77],[629,-65],[631,-48],[634,-42],[636,-48],[640,-53],[643,-59],[646,-50],[650,-56],[653,-48],[656,-59],[660,-42],[663,-97],[666,-50],[669,-56],[673,-45],[676,-68],[679,-48],[683,-56],[686,-53],[689,-39],[692,-62],[696,-50],[699,-56],[702,-71],[706,-59],[709,-65],[710,-111],[712,-50]];
const bonLaiSim = [[1,1.0],[8,0.6],[14,0.25],[21,0.05],[26,0],[195,0],[208,0.05],[221,0.3],[235,0.9],[244,1.5],[254,2.2],[264,2.6],[274,2.9],[287,3.2],[300,3.4],[313,3.55],[327,3.62],[340,3.68],[346,3.6],[353,3.3],[359,2.9],[366,2.3],[373,1.6],[379,1.0],[386,0.5],[392,0.15],[401,0],[563,0],[576,0.05],[589,0.3],[599,0.8],[609,1.5],[619,2.5],[629,3.3],[639,3.7],[648,3.9],[658,4.1],[668,4.3],[678,4.45],[688,4.55],[694,4.5],[701,4.5],[711,4.2],[721,3.8],[731,3.2],[740,2.5],[750,1.7],[760,0.8],[767,0.3],[775,0],[822,0]];
const bonLaiModis = [1.1,1.3,0.7,1.1,0.9,1.0,0.8,0.8,0.6,0.4,
  0.6,0.4,0.5,0.4,0.5,0.3,0.4,0.3,0.5,0.3,
  0.3,0.4,0.3,0.5,0.4,0.5,0.3,0.5,0.4,0.3,
  0.4,0.2,0.3,0.3,0.4,0.4,0.5,0.6,0.5,0.6,
  0.6,0.5,0.8,0.5,0.6,0.6,0.7,0.6,0.7,1.0,
  0.7,0.8,0.6,0.9,0.6,0.6,0.8,2.1,1.2,2.1,
  2.8,3.0,1.6,1.2,2.0,3.3,2.6,2.3,2.1,1.9,
  1.4,3.6,1.2,3.8,0.7,1.8,3.8,1.7,1.6,1.6,
  2.5,1.9,4.0,4.9,4.7,3.4,3.5,3.2,3.0,2.5,
  2.1,2.3,2.5,1.2,1.6,1.2,1.4,1.0,1.0,1.1,
  0.8,1.0,0.7,0.9,0.9,0.7,0.7,0.9,0.7,0.7,
  0.9,0.9,0.9,0.9,0.9,1.0,0.9,0.8,0.7,0.9,
  0.7,0.8,1.0,1.0,0.9,0.7,0.9,0.7,0.8,0.5,
  0.9,1.0,0.5,1.0,0.9,0.9,0.5,1.0,1.2,1.0,
  1.0,1.2,1.0,0.5,0.3,0.8,1.0,1.6,1.2,1.4,
  1.7,1.7,2.0,1.9,2.1,2.5,2.3,2.7,2.7,2.5,
  2.5,3.2,2.8,1.7,3.5,2.5,2.6,3.0,1.6,3.3,
  3.7,2.6,3.5,1.9,3.4,3.8,3.5,3.4,0.4,3.4,
  3.4,3.0,3.4,3.4,3.2,2.4,1.4,1.1,1.1,0.9,
  0.7,0.8,0.8,0.8,0.5,0.6,0.6,0.5,0.5,0.5,
  0.5,0.4,0.2];
const bonTemp = [28,26,27,28,27,26,28,27,26,25,28,30,29,28,31,30,32,31,33,32,33,31,34,32,30,34,33,31,32,30,29,31,28,27,30,28,27,25,28,26,27,24,26,25,26,24,27,25,27,26,28,27,29,28,30,29,31,30,29,28,30,28,29,27,28,26,29,31,30,32,31,33,32,33,31,34,33,32,34,33,32,34,31,33,28,30,27,26,28,25,27,26,24,27,25,26,24,26,25,27,24,26,22,25,27,26,28,29,27,28,29,30,29,30,28,29,26,27,28,29,28];
const bonPrecip = [[64,1],[152,1],[182,10],[185,5],[189,7],[195,12],[202,8],[207,28],[212,15],[215,30],[218,5],[221,6],[235,2],[244,23],[246,28],[249,8],[253,14],[256,5],[260,10],[262,13],[265,7],[267,8],[271,12],[274,26],[276,5],[278,27],[281,14],[283,22],[286,18],[288,8],[291,10],[294,28],[297,24],[300,12],[304,6],[307,14],[310,20],[313,8],[317,3],[320,14],[323,18],[327,27],[330,14],[333,20],[336,74],[340,30],[343,25],[346,20],[350,18],[353,32],[356,15],[359,12],[363,22],[366,10],[369,9],[373,5],[376,10],[397,3],
  [543,9],[547,7],[570,6],[573,5],[586,3],[599,14],[602,39],[606,21],[609,25],[612,30],[616,15],[619,10],[622,13],[625,8],[629,18],[632,13],[635,25],[639,10],[642,12],[645,15],[648,11],[652,9],[655,14],[658,12],[662,20],[665,30],[668,44],[671,20],[675,30],[677,50.5],[680,18],[682,10],[684,22],[688,35],[691,40],[694,28],[698,48.5],[701,42],[704,35],[708,54],[711,25],[714,12],[717,30],[721,18],[724,10],[727,24],[731,25],[734,12],[740,6],[747,4],[750,3]];
const bonSwcSim = [[31,20],[44,16],[64,12],[90,8.5],[116,6],[143,4.5],[169,3],[181,2.2],[183,9],[189,11],[192,15],[195,16],[198,17],[202,14],[207,21],[210,32],[212,28],[215,25],[218,23],[221,20],[228,17],[235,14],[241,22],[244,42],[248,38],[251,40],[254,35],[258,37],[261,40],[264,35],[267,38],[271,35],[274,42],[277,40],[281,35],[284,42],[287,39],[290,40],[294,38],[297,35],[300,40],[304,32],[307,35],[310,30],[313,28],[317,26],[320,24],[323,22],[327,38],[330,35],[333,42],[336,40],[340,43],[343,38],[346,41],[350,37],[353,40],[356,38],[359,42],[363,40],[366,37],[369,36],[373,30],[376,25],[379,20],[382,15],[386,12],[392,9],[399,7],[405,6],[438,4.5],[471,3.5],[504,2.7],[537,2],[542,1.5],[543,8],[547,6],[553,5],[560,4],[568,3.5],[570,19],[573,18.5],[576,18],[579,17],[583,16],[589,14],[592,12],[595,15],[599,28],[602,35],[606,33],[609,30],[612,28],[616,41],[619,36],[622,42],[625,38],[629,35],[632,36],[635,40],[639,33],[642,38],[645,35],[648,38],[652,32],[655,36],[658,38],[662,42],[665,40],[668,39],[671,41],[675,40],[678,42],[681,38],[684,40],[688,43],[691,40],[694,42],[698,38],[701,40],[704,43],[708,42],[711,39],[714,41],[717,38],[721,42],[724,39],[727,42],[731,40],[734,38],[737,32],[740,25],[743,18],[747,13],[750,10],[757,7],[767,5],[786,4],[822,2.5]];
const bonSwcObs = [[251,33],[258,30],[261,34],[266,32],[271,31],[274,28],[279,29],[284,32],[287,37],[291,40],[296,34],[300,31],[304,27],[307,32],[310,23],[315,21],[320,23],[323,16],[327,27],[330,47],[334,32],[340,45],[345,41],[350,43],[354,43],[358,44],[363,33],[369,43],
  [527,1.5],[533,1.5],[543,3],[550,1.3],[556,2],[596,21],[599,24],[604,34],[609,32],[612,27],[616,19],[617,14],[619,23],[632,10],[635,24],[641,41],[645,33],[652,40],[655,35],[662,43],[668,41],[675,41],[681,30],[688,42],[694,41],[701,40],[708,44]];

// ---------- labels ----------
const siteNames = ["Agoufou (A)", "Dahra (B)", "Wankama 1 (C)", "Sumbrungu (D)", "Bontioli (E)"];
const neeR = ["r= 0.80 (0.69 - 0.90)", "r= 0.67 (0.63 - 0.70)", "r= 0.77 (0.47 - 0.88)", "r= 0.89 (0.84 - 0.98)", "r= 0.85 (0.81 - 0.90)"];
const laiR = ["r= 0.88 (0.75 - 0.98)", "r= 0.84 (0.70 - 0.98)", "r= 0.78 (0.40 - 0.96)", "r= 0.88 (0.81 - 0.95)", "r= 0.95 (0.94 - 0.96)"];
const neeLegend = ["NEE _ Simulated", "NEE _ Observed"];
const laiLegend = ["LAI _ Simulated", "LAI _ MODIS"];
const precipLegend = ["Precipitation", "Temperature", "SWC_Simulated", "SWC_Observed"];
const precipLegendDahra = ["Preciptation", "Temperature", "SWC_Simulated", "SWC_Observed"];

// y tick values
const agoNeeTicks = [-100,-80,-60,-40,-20,0,20,40,60,80,100];
const dahNeeTicks = [-50,-40,-30,-20,-10,0,10,20,30,40];
const wanNeeTicks = [-100,-80,-60,-40,-20,0,20,40,60];
const sumNeeTicks = [-150,-100,-50,0,50,100];
const bonNeeTicks = [-200,-180,-160,-140,-120,-100,-80,-60,-40,-20,0,20,40,60];
const lai2Ticks = [0,0.5,1,1.5,2];
const lai1Ticks = [0,0.5,1];
const lai3Ticks = [0,0.5,1,1.5,2,2.5,3];
const lai5Ticks = [0,0.5,1,1.5,2,2.5,3,3.5,4,4.5,5];
const precip50Ticks = [0,10,20,30,40,50];
const precip100Ticks = [0,20,40,60,80,100];
const precip80Ticks = [0,10,20,30,40,50,60,70,80];

// ================= drawing =================
const RED = "#FF0000", BLUE = "#5B9BD5", GRAY = "#C9C9C9", ORANGE = "#ED7D31", AXIS = "#333333";
const svg = d3.select("#fig");
let clipN = 0;

const TOP = {tick: ["Lato", 23], ytitle: ["DejaVu Sans", 18], leg: ["Lato", 21, "normal"], legP: ["Lato", 19, "normal"],
  title: ["Lato", 35], r: ["Lato", 32], xlab: ["DejaVu Sans", 16.5]};
const BOT = {tick: ["DejaVu Sans", 17], ytitle: ["Lato", 22], leg: ["DejaVu Sans", 15, "bold"],
  title: ["DejaVu Sans", 26], r: ["DejaVu Sans", 25], xlab: ["Lato", 19]};

const series = (start, step, vals) => vals.map((v, i) => [start + i * step, v]);

function drawLine(sel, data, x, y, color, w, dash) {
  sel.append("path").datum(data)
    .attr("d", d3.line().defined(d => d[1] != null).x(d => x(d[0])).y(d => y(d[1])))
    .attr("fill", "none").attr("stroke", color).attr("stroke-width", w)
    .attr("stroke-linejoin", "round").attr("stroke-dasharray", dash || null);
}
// pair > 0 draws each observation as two dots side by side, as the MODIS marks appear
function drawDots(sel, data, x, y, r, pair) {
  const offs = pair ? [-pair, pair] : [0];
  const pts = data.filter(d => d[1] != null);
  offs.forEach(o => {
    sel.append("g").selectAll("circle").data(pts).join("circle")
      .attr("cx", d => x(d[0]) + o).attr("cy", d => y(d[1])).attr("r", r).attr("fill", RED);
  });
}
function drawBars(sel, data, x, y, w) {
  sel.append("g").selectAll("rect").data(data).join("rect")
    .attr("x", d => x(d[0]) - w / 2).attr("y", d => y(d[1]))
    .attr("width", w).attr("height", d => y(0) - y(d[1])).attr("fill", BLUE);
}
function styleAxis(a, font) {
  a.select(".domain").attr("stroke", AXIS).attr("stroke-width", 2);
  a.selectAll(".tick line").attr("stroke", AXIS).attr("stroke-width", 2);
  a.selectAll(".tick text").attr("fill", "#000").attr("font-family", font[0])
    .attr("font-size", font[1]).attr("font-weight", "bold");
}
function addText(g, x, y, str, font, weight, anchor) {
  return g.append("text").attr("x", x).attr("y", y).attr("text-anchor", anchor || "start")
    .attr("font-family", font[0]).attr("font-size", font[1]).attr("font-weight", weight).text(str);
}

function panel(p) {
  const s = p.style;
  const x = d3.scaleLinear().domain([0, p.span]).range([p.x0, p.x1]);
  const y = d3.scaleLinear().domain(d3.extent(p.yTicks)).range([p.y1, p.y0]);
  const g = svg.append("g");
  const id = "clip" + (clipN++);
  g.append("clipPath").attr("id", id).append("rect")
    .attr("x", p.x0).attr("y", p.y0).attr("width", p.x1 - p.x0).attr("height", p.y1 - p.y0);
  const body = g.append("g").attr("clip-path", `url(#${id})`);
  if (p.zeroLine) {
    body.append("line").attr("x1", p.x0).attr("x2", p.x1).attr("y1", y(0)).attr("y2", y(0))
      .attr("stroke", "#000").attr("stroke-width", p.zeroLine);
  }
  p.draw(body, x, y);

  g.append("rect").attr("x", p.x0).attr("y", p.y0).attr("width", p.x1 - p.x0).attr("height", p.y1 - p.y0)
    .attr("fill", "none").attr("stroke", AXIS).attr("stroke-width", p.frame || 2);

  const ay = g.append("g").attr("transform", `translate(${p.x0},0)`)
    .call(d3.axisLeft(y).tickValues(p.yTicks).tickSize(8).tickSizeOuter(0).tickPadding(5).tickFormat(p.fmt));
  styleAxis(ay, s.tick);

  if (p.xLabels) {
    const ax = g.append("g").attr("transform", `translate(0,${p.y1})`)
      .call(d3.axisBottom(x).tickValues(p.xLabels.map((_, i) => i * p.xStep))
        .tickSize(8).tickSizeOuter(0).tickFormat((d, i) => p.xLabels[i]));
    styleAxis(ax, s.xlab);
    ax.selectAll(".tick text").attr("transform", "rotate(-90)").attr("text-anchor", "end")
      .attr("x", -12).attr("y", 0).attr("dy", "0.35em");
  }

  // y axis title (one or two lines)
  p.yTitle.forEach(t => {
    const tx = g.append("text")
      .attr("transform", `translate(${t.x},${(p.y0 + p.y1) / 2}) rotate(-90)`)
      .attr("text-anchor", "middle").attr("dy", "0.35em")
      .attr("font-family", s.ytitle[0]).attr("font-size", s.ytitle[1]).attr("font-weight", "bold");
    t.parts.forEach(part => {
      const ts = tx.append("tspan").text(part[0]);
      if (part[1]) ts.attr("baseline-shift", "super").attr("font-size", Math.round(s.ytitle[1] * 0.65));
    });
  });

  if (p.title) addText(g, p.title[1], p.title[2], p.title[0], s.title, "bold", "end");
  if (p.r) addText(g, p.r[1], p.r[2], p.r[0], s.r, "normal", "end");

  const L = p.legend;
  if (L && L.kind === 2) {
    g.append("line").attr("x1", L.lx).attr("x2", L.lx + L.len).attr("y1", L.y1).attr("y2", L.y1)
      .attr("stroke", "#000").attr("stroke-width", L.lw);
    g.append("circle").attr("cx", L.lx + L.len / 2).attr("cy", L.y2).attr("r", L.r).attr("fill", RED);
    addText(g, L.tx, L.y1, L.labels[0], s.leg, s.leg[2]).attr("dy", "0.35em");
    addText(g, L.tx, L.y2, L.labels[1], s.leg, s.leg[2]).attr("dy", "0.35em");
  }
  if (L && L.kind === 4) {
    const f = s.legP || s.leg;
    g.append("rect").attr("x", L.rect[0]).attr("y", L.y - L.rh / 2).attr("width", L.rect[1] - L.rect[0])
      .attr("height", L.rh).attr("fill", BLUE);
    g.append("line").attr("x1", L.gray[0]).attr("x2", L.gray[1]).attr("y1", L.y).attr("y2", L.y)
      .attr("stroke", GRAY).attr("stroke-width", 3);
    g.append("line").attr("x1", L.orange[0]).attr("x2", L.orange[1]).attr("y1", L.y).attr("y2", L.y)
      .attr("stroke", ORANGE).attr("stroke-width", 3);
    g.append("circle").attr("cx", L.dot).attr("cy", L.y).attr("r", 2).attr("fill", RED);
    L.labels.forEach((t, i) => addText(g, L.tx[i], L.y, t, f, f[2]).attr("dy", "0.35em"));
  }
}

const fmtInt = d => d;
const fmt1 = d3.format(".1f");
const NB = "\u00a0";
const neeTitle = [["NEE" + NB + NB + "[kgCha" + NB], ["-1", true], [NB + NB + "]"]];
const laiTitle = [["LAI" + NB + "[m" + NB], ["2", true], [NB + "m" + NB], ["-2", true], [NB + "]"]];
const neeTitleB = [["NEE [kgCha"], ["-1", true], ["]"]];
const laiTitleB = [["LAI [m"], ["2", true], [" m"], ["-2", true], ["]"]];
const pTitle1 = [["Precipitation (mm)/"]];
const pTitle2 = [["Temperature (°C)/SWC (%)"]];

// ---------------- Agoufou (A) ----------------
const A = {x0: 180, x1: 1017, span: 596};
panel({...A, style: TOP, y0: 26, y1: 405, yTicks: agoNeeTicks, fmt: fmtInt, zeroLine: 2.5,
  yTitle: [{x: 96, parts: neeTitle}], title: [siteNames[0], 1013, 63], r: [neeR[0], 1013, 101],
  legend: {kind: 2, lx: 191, len: 27, lw: 3, y1: 50, y2: 89, r: 3.4, tx: 221, labels: neeLegend},
  draw: (b, x, y) => {
    drawLine(b, agoNeeSim, x, y, "#000", 1.8);
    drawDots(b, series(0, 4, agoNeeObsA), x, y, 3.4);
    drawDots(b, series(2, 4, agoNeeObsB), x, y, 3.4);
    drawDots(b, agoNeeObsSeason, x, y, 3.4);
  }});
panel({...A, style: TOP, y0: 436, y1: 812, yTicks: lai2Ticks, fmt: fmt1,
  yTitle: [{x: 102, parts: laiTitle}], title: [siteNames[0], 1013, 483], r: [laiR[0], 1013, 522],
  legend: {kind: 2, lx: 191, len: 27, lw: 3, y1: 462, y2: 506, r: 3.4, tx: 221, labels: laiLegend},
  draw: (b, x, y) => {
    drawLine(b, agoLaiSim, x, y, "#000", 1.6);
    drawDots(b, series(2, 4, agoLaiModis), x, y, 3.2, 2);
  }});
panel({...A, style: TOP, y0: 843, y1: 1193, yTicks: precip50Ticks, fmt: fmtInt,
  xLabels: agoTickLabels, xStep: 61,
  yTitle: [{x: 83, parts: pTitle1}, {x: 109, parts: pTitle2}], title: [siteNames[0], 1013, 888],
  legend: {kind: 4, y: 876, rh: 16, rect: [199, 228], gray: [336, 366], orange: [484, 513], dot: 668,
    tx: [230, 368, 515, 680], labels: precipLegend},
  draw: (b, x, y) => {
    drawBars(b, agoPrecip, x, y, 3.5);
    drawLine(b, series(0, 5, agoTemp), x, y, GRAY, 1.8);
    drawLine(b, agoSwcSim, x, y, ORANGE, 2);
    drawLine(b, agoSwcObs, x, y, RED, 3.5, "2.5 1.5");
  }});

// ---------------- Dahra (B) ----------------
const B = {x0: 1220, x1: 2057, span: 913};
panel({...B, style: TOP, y0: 25, y1: 402, yTicks: dahNeeTicks, fmt: fmtInt, zeroLine: 2.5,
  yTitle: [{x: 1144, parts: neeTitle}], title: [siteNames[1], 2046, 64], r: [neeR[1], 2047, 111],
  legend: {kind: 2, lx: 1231, len: 30, lw: 3, y1: 50, y2: 94, r: 2.6, tx: 1262, labels: neeLegend},
  draw: (b, x, y) => {
    drawLine(b, dahNeeSim, x, y, "#000", 2.4);
    drawDots(b, dahNeeObs, x, y, 2.6);
  }});
panel({...B, style: TOP, y0: 434, y1: 812, yTicks: lai1Ticks, fmt: fmt1,
  yTitle: [{x: 1147, parts: laiTitle}], title: [siteNames[1], 2046, 480], r: [laiR[1], 2047, 527],
  legend: {kind: 2, lx: 1236, len: 28, lw: 3, y1: 459, y2: 498, r: 2.3, tx: 1265, labels: laiLegend},
  draw: (b, x, y) => {
    drawLine(b, dahLaiSim, x, y, "#000", 1.6);
    drawDots(b, dahLaiModis, x, y, 2.2, 1.8);
  }});
panel({...B, style: TOP, y0: 842, y1: 1193, yTicks: precip50Ticks, fmt: fmtInt,
  xLabels: dahTickLabels, xStep: 99,
  yTitle: [{x: 1128, parts: pTitle1}, {x: 1153, parts: pTitle2}], title: [siteNames[1], 2046, 888],
  legend: {kind: 4, y: 876, rh: 16, rect: [1236, 1264], gray: [1376, 1405], orange: [1522, 1552], dot: 1707,
    tx: [1266, 1406, 1553, 1722], labels: precipLegendDahra},
  draw: (b, x, y) => {
    drawBars(b, dahPrecip, x, y, 3);
    drawLine(b, series(0, 7.3, dahTemp), x, y, GRAY, 1.8);
    drawLine(b, dahSwcSim, x, y, ORANGE, 2);
    drawLine(b, dahSwcObs, x, y, RED, 3.2, "2 1.5");
  }});

// ---------------- Wankama 1 (C) ----------------
const C = {x0: 172, x1: 2056, span: 2782, frame: 3};
const TOPC = {...TOP, tick: ["Lato", 21]};
panel({...C, style: TOPC, y0: 1313, y1: 1695, yTicks: wanNeeTicks, fmt: fmtInt, zeroLine: 2.5,
  yTitle: [{x: 86, parts: neeTitle}], title: [siteNames[2], 2047, 1355], r: [neeR[2], 2047, 1400],
  legend: {kind: 2, lx: 201, len: 31, lw: 3, y1: 1338, y2: 1387, r: 3, tx: 234, labels: neeLegend},
  draw: (b, x, y) => {
    drawLine(b, wanNeeSim, x, y, "#000", 1.6);
    wanObsRuns.forEach((r, i) => drawDots(b, series(wanObsRunStart[i], 6, r), x, y, 3.2));
    drawDots(b, wanNeeObs, x, y, 3.2);
  }});
panel({...C, style: TOPC, y0: 1721, y1: 2092, yTicks: lai2Ticks, fmt: fmt1,
  yTitle: [{x: 95, parts: laiTitle}], title: [siteNames[2], 2047, 1759], r: [laiR[2], 2047, 1807],
  legend: {kind: 2, lx: 201, len: 31, lw: 3, y1: 1748, y2: 1793, r: 2.2, tx: 234, labels: laiLegend},
  draw: (b, x, y) => {
    drawLine(b, wanLaiSim, x, y, "#000", 1.5);
    drawDots(b, series(0, 8, wanLaiModis), x, y, 2.2, 1.6);
  }});
panel({...C, style: TOPC, y0: 2123, y1: 2458, yTicks: precip50Ticks, fmt: fmtInt,
  xLabels: wanTickLabels, xStep: 100,
  yTitle: [{x: 82, parts: pTitle1}, {x: 113, parts: pTitle2}], title: [siteNames[2], 2047, 2160],
  legend: {kind: 4, y: 2145, rh: 16, rect: [221, 249], gray: [395, 424], orange: [572, 603], dot: 792,
    tx: [252, 427, 605, 808], labels: precipLegend},
  draw: (b, x, y) => {
    [wanRain05, wanRain06, wanRain07, wanRain08, wanRain09, wanRain10, wanRain11, wanRain12]
      .forEach((r, i) => drawBars(b, series(wanRainStart[i], 3, r), x, y, 2.2));
    drawLine(b, series(33, 9.8, wanTemp), x, y, GRAY, 1.6);
    drawLine(b, wanSwcSim, x, y, ORANGE, 1.6);
    drawLine(b, wanSwcObs, x, y, RED, 3, "2 2");
  }});

// ---------------- Sumbrungu (D) ----------------
const D = {x0: 180, x1: 1026, span: 1461};
panel({...D, style: BOT, y0: 2577, y1: 2955, yTicks: sumNeeTicks, fmt: fmtInt, zeroLine: 1.2,
  yTitle: [{x: 102, parts: neeTitleB}], title: [siteNames[3], 1018, 2615], r: [neeR[3], 1020, 2658],
  legend: {kind: 2, lx: 195, len: 29, lw: 2.5, y1: 2596, y2: 2634, r: 3, tx: 226, labels: neeLegend},
  draw: (b, x, y) => {
    drawLine(b, sumNeeSim, x, y, "#000", 1.8);
    drawDots(b, sumNeeObs, x, y, 3.2);
  }});
panel({...D, style: BOT, y0: 2991, y1: 3373, yTicks: lai3Ticks, fmt: fmt1,
  yTitle: [{x: 99, parts: laiTitleB}], title: [siteNames[3], 1016, 3032], r: [laiR[3], 1016, 3075],
  legend: {kind: 2, lx: 186, len: 29, lw: 1.5, y1: 3012, y2: 3055, r: 3, tx: 221, labels: laiLegend},
  draw: (b, x, y) => {
    drawLine(b, sumLaiSim, x, y, "#000", 1.8);
    drawDots(b, series(0, 8, sumLaiModis), x, y, 3.2);
  }});
panel({...D, style: BOT, y0: 3402, y1: 3756, yTicks: precip100Ticks, fmt: fmtInt,
  xLabels: sumTickLabels, xStep: 91.31,
  yTitle: [{x: 79, parts: pTitle1}, {x: 106, parts: pTitle2}], title: [siteNames[3], 1018, 3441],
  legend: {kind: 4, y: 3427, rh: 14, rect: [190, 218], gray: [337, 356], orange: [469, 498], dot: 642,
    tx: [221, 357, 500, 658], labels: precipLegend},
  draw: (b, x, y) => {
    drawBars(b, sumPrecip, x, y, 2);
    drawLine(b, series(3.4, 11.39, sumTemp), x, y, GRAY, 1.8);
    drawLine(b, sumSwcSim, x, y, ORANGE, 1.8);
    drawLine(b, sumSwcObs, x, y, RED, 2.6, "2 3");
  }});

// ---------------- Bontioli (E) ----------------
const E = {x0: 1218, x1: 2050, span: 822};
panel({...E, style: BOT, y0: 2577, y1: 2958, yTicks: bonNeeTicks, fmt: fmtInt, zeroLine: 1.2,
  yTitle: [{x: 1130, parts: neeTitleB}], title: [siteNames[4], 2021, 2615], r: [neeR[4], 2041, 2943],
  legend: {kind: 2, lx: 1233, len: 28, lw: 2.5, y1: 2596, y2: 2632, r: 2.5, tx: 1263, labels: neeLegend},
  draw: (b, x, y) => {
    drawLine(b, bonNeeSim, x, y, "#000", 1.6);
    drawDots(b, bonNeeObs, x, y, 2.8);
  }});
panel({...E, style: BOT, y0: 2994, y1: 3370, yTicks: lai5Ticks, fmt: fmt1,
  yTitle: [{x: 1133, parts: laiTitleB}], title: [siteNames[4], 2041, 3030], r: [laiR[4], 2041, 3064],
  legend: {kind: 2, lx: 1229, len: 30, lw: 1.5, y1: 3017, y2: 3054, r: 3, tx: 1263, labels: laiLegend},
  draw: (b, x, y) => {
    drawLine(b, bonLaiSim, x, y, "#000", 1.8);
    drawDots(b, series(1, 4.07, bonLaiModis), x, y, 3);
  }});
panel({...E, style: BOT, y0: 3402, y1: 3756, yTicks: precip80Ticks, fmt: fmtInt,
  xLabels: bonTickLabels, xStep: 61,
  yTitle: [{x: 1116, parts: pTitle1}, {x: 1142, parts: pTitle2}], title: [siteNames[4], 2041, 3439],
  legend: {kind: 4, y: 3424, rh: 14, rect: [1233, 1261], gray: [1382, 1406], orange: [1529, 1559], dot: 1716,
    tx: [1266, 1408, 1560, 1733], labels: precipLegend},
  draw: (b, x, y) => {
    drawBars(b, bonPrecip, x, y, 2.4);
    drawLine(b, series(31, 6.57, bonTemp), x, y, GRAY, 1.8);
    drawLine(b, bonSwcSim, x, y, ORANGE, 1.8);
    drawDots(b, bonSwcObs, x, y, 2.5);
  }});
</script>
</body>
</html>
